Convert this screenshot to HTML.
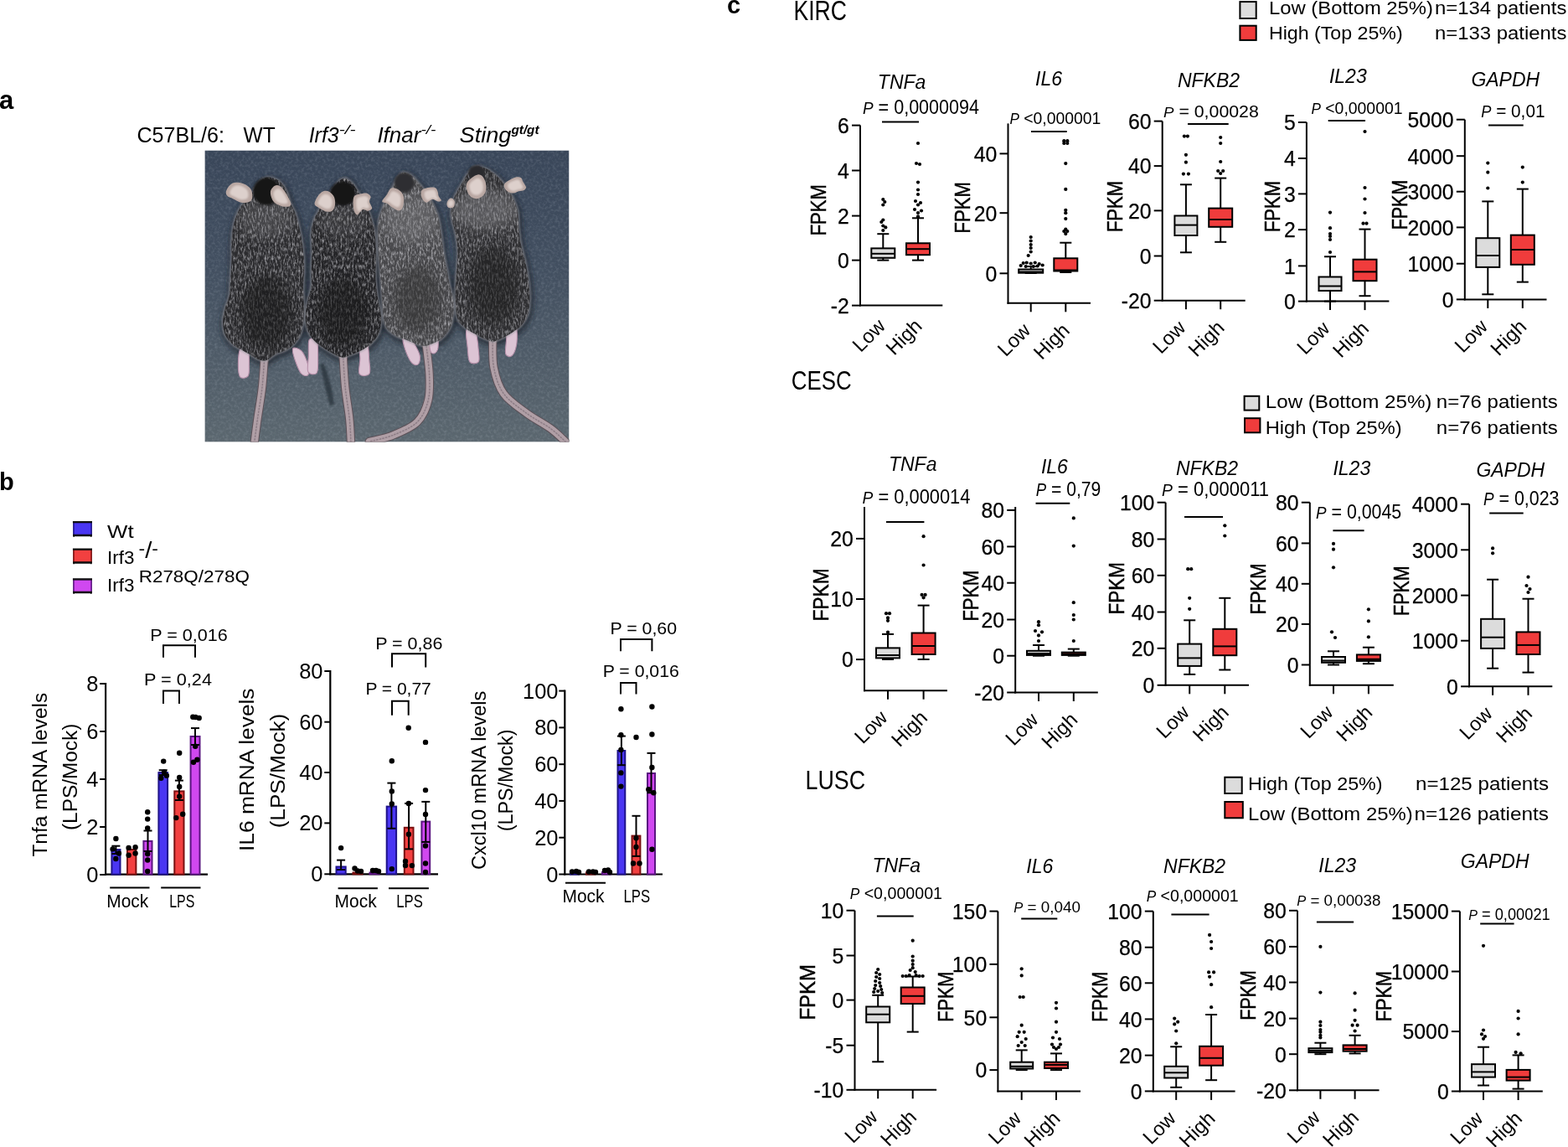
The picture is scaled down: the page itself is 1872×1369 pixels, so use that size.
<!DOCTYPE html>
<html><head><meta charset="utf-8"><title>Figure</title><style>html,body{margin:0;padding:0;background:#fff;overflow:hidden}svg{display:block}</style></head><body>
<svg width="1872" height="1369" viewBox="0 0 1872 1369" font-family="'Liberation Sans', Arial, sans-serif" fill="#000">
<rect width="1872" height="1369" fill="#fff"/>
<text x="-1.0" y="129.8" font-size="31" text-anchor="start" font-weight="bold" >a</text>
<text x="-1.0" y="585.0" font-size="29" text-anchor="start" font-weight="bold" >b</text>
<text x="868.0" y="16.0" font-size="29" text-anchor="start" font-weight="bold" >c</text>
<text x="163.5" y="170.1" font-size="25" text-anchor="start" textLength="104.5" lengthAdjust="spacingAndGlyphs" >C57BL/6:</text>
<text x="290.6" y="170.1" font-size="25" text-anchor="start" textLength="38.1" lengthAdjust="spacingAndGlyphs" >WT</text>
<text x="368.7" y="170.1" font-size="25" font-style="italic"><tspan textLength="36" lengthAdjust="spacingAndGlyphs">Irf3</tspan><tspan font-size="15" dy="-10" textLength="20" lengthAdjust="spacingAndGlyphs">-/-</tspan></text>
<text x="450.4" y="170.1" font-size="25" font-style="italic"><tspan textLength="52" lengthAdjust="spacingAndGlyphs">Ifnar</tspan><tspan font-size="15" dy="-10" textLength="18" lengthAdjust="spacingAndGlyphs">-/-</tspan></text>
<text x="548.5" y="170.1" font-size="25" font-style="italic"><tspan textLength="62" lengthAdjust="spacingAndGlyphs">Sting</tspan><tspan font-size="15" font-weight="bold" dy="-10" textLength="33" lengthAdjust="spacingAndGlyphs">gt/gt</tspan></text>
<defs>
<clipPath id="phc"><rect x="244.4" y="179.4" width="435.1" height="348.2"/></clipPath>
<linearGradient id="bgg" x1="0" y1="0" x2="0" y2="1"><stop offset="0" stop-color="#394659"/><stop offset="0.4" stop-color="#424f60"/><stop offset="1" stop-color="#5b676f"/></linearGradient>
<filter id="fur" x="0" y="0" width="100%" height="100%"><feTurbulence type="fractalNoise" baseFrequency="0.13 0.05" numOctaves="3" seed="3"/><feColorMatrix type="matrix" values="0 0 0 0 0.52  0 0 0 0 0.52  0 0 0 0 0.55  1.9 0 0 0 -0.8"/><feGaussianBlur stdDeviation="1.6"/></filter>
<filter id="bgn" x="0" y="0" width="100%" height="100%"><feTurbulence type="fractalNoise" baseFrequency="0.3" numOctaves="3" seed="7"/><feColorMatrix type="matrix" values="0 0 0 0 0.62  0 0 0 0 0.68  0 0 0 0 0.76  1.6 0 0 0 -0.65"/></filter>
<filter id="soft" x="-20%" y="-20%" width="140%" height="140%"><feGaussianBlur stdDeviation="14"/></filter>
<filter id="soft2" x="-20%" y="-20%" width="140%" height="140%"><feGaussianBlur stdDeviation="5"/></filter>
<filter id="soft3" x="-50%" y="-50%" width="200%" height="200%"><feGaussianBlur stdDeviation="25"/></filter>
<clipPath id="mc0"><path d="M310,140 C321,140 334,144 345,150 C356,156 367,164 375,175 C383,186 389,201 395,215 C401,229 404,246 410,260 C416,274 424,285 430,300 C436,315 440,330 445,350 C450,370 456,395 460,420 C464,445 468,477 470,500 C472,523 472,537 472,560 C472,583 468,617 468,640 C468,663 469,680 470,700 C471,720 473,740 472,760 C471,780 469,802 465,820 C461,838 458,855 450,870 C442,885 432,899 420,910 C408,921 393,928 380,935 C367,942 353,943 340,950 C327,957 312,974 300,978 C288,982 277,979 265,975 C253,971 243,962 230,955 C217,948 200,939 185,930 C170,921 152,912 140,900 C128,888 117,877 110,860 C103,843 100,820 100,800 C100,780 105,760 110,740 C115,720 126,703 130,680 C134,657 133,627 135,600 C137,573 139,547 140,520 C141,493 139,463 140,440 C141,417 142,400 145,380 C148,360 153,338 160,320 C167,302 175,285 185,270 C195,255 209,244 220,230 C231,216 240,198 250,185 C260,172 270,158 280,150 C290,142 299,140 310,140 Z"/></clipPath>
<clipPath id="mc1"><path d="M655,145 C666,145 680,156 690,165 C700,174 707,188 715,200 C723,212 732,227 740,240 C748,253 753,265 760,280 C767,295 774,312 780,330 C786,348 792,368 795,390 C798,412 799,435 800,460 C801,485 800,513 800,540 C800,567 798,593 800,620 C802,647 806,673 810,700 C814,727 824,755 825,780 C826,805 822,830 815,850 C808,870 794,886 780,900 C766,914 747,926 730,935 C713,944 693,950 680,955 C667,960 662,966 650,965 C638,964 625,958 610,950 C595,942 576,931 560,920 C544,909 528,900 515,885 C502,870 491,849 485,830 C479,811 477,792 478,770 C479,748 486,722 490,700 C494,678 502,663 505,640 C508,617 504,587 505,560 C506,533 508,507 508,480 C508,453 504,423 505,400 C506,377 509,358 515,340 C521,322 531,307 540,290 C549,273 560,255 570,240 C580,225 591,212 600,200 C609,188 616,174 625,165 C634,156 644,145 655,145 Z"/></clipPath>
<clipPath id="mc2"><path d="M925,118 C934,117 948,122 960,130 C972,138 983,152 995,165 C1007,178 1019,194 1030,210 C1041,226 1051,242 1060,260 C1069,278 1078,297 1085,320 C1092,343 1096,373 1100,400 C1104,427 1106,453 1110,480 C1114,507 1120,533 1125,560 C1130,587 1135,617 1140,640 C1145,663 1152,678 1155,700 C1158,722 1158,748 1155,770 C1152,792 1149,812 1140,830 C1131,848 1115,868 1100,880 C1085,892 1062,900 1050,905 C1038,910 1035,912 1025,912 C1015,912 1004,910 990,905 C976,900 957,892 940,885 C923,878 905,874 890,865 C875,856 859,844 850,830 C841,816 838,798 835,780 C832,762 832,742 830,720 C828,698 827,677 825,650 C823,623 820,590 818,560 C816,530 813,497 812,470 C811,443 810,423 810,400 C810,377 811,352 815,330 C819,308 828,288 835,270 C842,252 852,237 860,220 C868,203 878,184 885,170 C892,156 898,144 905,135 C912,126 916,119 925,118 Z"/></clipPath>
<clipPath id="mc3"><path d="M1255,92 C1267,87 1278,91 1290,95 C1302,99 1317,106 1330,115 C1343,124 1358,138 1370,150 C1382,162 1390,175 1400,190 C1410,205 1422,222 1430,240 C1438,258 1446,277 1450,300 C1454,323 1452,355 1455,380 C1458,405 1460,425 1465,450 C1470,475 1479,502 1485,530 C1491,558 1497,592 1500,620 C1503,648 1506,675 1505,700 C1504,725 1502,750 1495,770 C1488,790 1479,805 1465,820 C1451,835 1428,849 1410,860 C1392,871 1372,880 1360,885 C1348,890 1345,893 1335,892 C1325,891 1314,886 1300,880 C1286,874 1265,863 1250,855 C1235,847 1222,841 1210,830 C1198,819 1182,808 1175,790 C1168,772 1167,745 1165,720 C1163,695 1164,667 1165,640 C1166,613 1168,587 1170,560 C1172,533 1176,507 1175,480 C1174,453 1169,423 1165,400 C1161,377 1153,358 1150,340 C1147,322 1143,308 1145,290 C1147,272 1152,249 1160,230 C1168,211 1180,192 1190,175 C1200,158 1209,139 1220,125 C1231,111 1243,97 1255,92 Z"/></clipPath>
</defs>
<g clip-path="url(#phc)">
<rect x="244.4" y="179.4" width="435.1" height="348.2" fill="url(#bgg)"/>
<rect x="244.4" y="179.4" width="435.1" height="348.2" filter="url(#bgn)" opacity="0.22"/>
<g transform="translate(240,175) scale(0.26082)">
<path d="M560,990 C590,1050 600,1120 610,1180 L590,1185 C570,1120 560,1060 545,1000 Z" fill="#1f262e" opacity="0.6" filter="url(#soft2)"/>
<g filter="url(#soft)" opacity="0.85">
<path d="M310,140 C321,140 334,144 345,150 C356,156 367,164 375,175 C383,186 389,201 395,215 C401,229 404,246 410,260 C416,274 424,285 430,300 C436,315 440,330 445,350 C450,370 456,395 460,420 C464,445 468,477 470,500 C472,523 472,537 472,560 C472,583 468,617 468,640 C468,663 469,680 470,700 C471,720 473,740 472,760 C471,780 469,802 465,820 C461,838 458,855 450,870 C442,885 432,899 420,910 C408,921 393,928 380,935 C367,942 353,943 340,950 C327,957 312,974 300,978 C288,982 277,979 265,975 C253,971 243,962 230,955 C217,948 200,939 185,930 C170,921 152,912 140,900 C128,888 117,877 110,860 C103,843 100,820 100,800 C100,780 105,760 110,740 C115,720 126,703 130,680 C134,657 133,627 135,600 C137,573 139,547 140,520 C141,493 139,463 140,440 C141,417 142,400 145,380 C148,360 153,338 160,320 C167,302 175,285 185,270 C195,255 209,244 220,230 C231,216 240,198 250,185 C260,172 270,158 280,150 C290,142 299,140 310,140 Z" fill="#1a212b" stroke="#1a212b" stroke-width="22" transform="translate(4,10)"/>
<path d="M655,145 C666,145 680,156 690,165 C700,174 707,188 715,200 C723,212 732,227 740,240 C748,253 753,265 760,280 C767,295 774,312 780,330 C786,348 792,368 795,390 C798,412 799,435 800,460 C801,485 800,513 800,540 C800,567 798,593 800,620 C802,647 806,673 810,700 C814,727 824,755 825,780 C826,805 822,830 815,850 C808,870 794,886 780,900 C766,914 747,926 730,935 C713,944 693,950 680,955 C667,960 662,966 650,965 C638,964 625,958 610,950 C595,942 576,931 560,920 C544,909 528,900 515,885 C502,870 491,849 485,830 C479,811 477,792 478,770 C479,748 486,722 490,700 C494,678 502,663 505,640 C508,617 504,587 505,560 C506,533 508,507 508,480 C508,453 504,423 505,400 C506,377 509,358 515,340 C521,322 531,307 540,290 C549,273 560,255 570,240 C580,225 591,212 600,200 C609,188 616,174 625,165 C634,156 644,145 655,145 Z" fill="#1a212b" stroke="#1a212b" stroke-width="22" transform="translate(4,10)"/>
<path d="M925,118 C934,117 948,122 960,130 C972,138 983,152 995,165 C1007,178 1019,194 1030,210 C1041,226 1051,242 1060,260 C1069,278 1078,297 1085,320 C1092,343 1096,373 1100,400 C1104,427 1106,453 1110,480 C1114,507 1120,533 1125,560 C1130,587 1135,617 1140,640 C1145,663 1152,678 1155,700 C1158,722 1158,748 1155,770 C1152,792 1149,812 1140,830 C1131,848 1115,868 1100,880 C1085,892 1062,900 1050,905 C1038,910 1035,912 1025,912 C1015,912 1004,910 990,905 C976,900 957,892 940,885 C923,878 905,874 890,865 C875,856 859,844 850,830 C841,816 838,798 835,780 C832,762 832,742 830,720 C828,698 827,677 825,650 C823,623 820,590 818,560 C816,530 813,497 812,470 C811,443 810,423 810,400 C810,377 811,352 815,330 C819,308 828,288 835,270 C842,252 852,237 860,220 C868,203 878,184 885,170 C892,156 898,144 905,135 C912,126 916,119 925,118 Z" fill="#1a212b" stroke="#1a212b" stroke-width="22" transform="translate(4,10)"/>
<path d="M1255,92 C1267,87 1278,91 1290,95 C1302,99 1317,106 1330,115 C1343,124 1358,138 1370,150 C1382,162 1390,175 1400,190 C1410,205 1422,222 1430,240 C1438,258 1446,277 1450,300 C1454,323 1452,355 1455,380 C1458,405 1460,425 1465,450 C1470,475 1479,502 1485,530 C1491,558 1497,592 1500,620 C1503,648 1506,675 1505,700 C1504,725 1502,750 1495,770 C1488,790 1479,805 1465,820 C1451,835 1428,849 1410,860 C1392,871 1372,880 1360,885 C1348,890 1345,893 1335,892 C1325,891 1314,886 1300,880 C1286,874 1265,863 1250,855 C1235,847 1222,841 1210,830 C1198,819 1182,808 1175,790 C1168,772 1167,745 1165,720 C1163,695 1164,667 1165,640 C1166,613 1168,587 1170,560 C1172,533 1176,507 1175,480 C1174,453 1169,423 1165,400 C1161,377 1153,358 1150,340 C1147,322 1143,308 1145,290 C1147,272 1152,249 1160,230 C1168,211 1180,192 1190,175 C1200,158 1209,139 1220,125 C1231,111 1243,97 1255,92 Z" fill="#1a212b" stroke="#1a212b" stroke-width="22" transform="translate(4,10)"/>
</g>
<path d="M290,975 C288,996 285,1054 280,1100 C275,1146 264,1208 258,1250 C252,1292 247,1333 245,1350 " fill="none" stroke="#5c5158" stroke-width="40" stroke-linecap="round"/>
<path d="M290,975 C288,996 285,1054 280,1100 C275,1146 264,1208 258,1250 C252,1292 247,1333 245,1350 " fill="none" stroke="#b09fa6" stroke-width="32" stroke-linecap="round"/>
<path d="M290,975 C288,996 285,1054 280,1100 C275,1146 264,1208 258,1250 C252,1292 247,1333 245,1350 " fill="none" stroke="#8d7d86" stroke-width="6" stroke-dasharray="5 9" stroke-linecap="round"/>
<path d="M650,955 C652,979 655,1051 660,1100 C665,1149 676,1208 680,1250 C684,1292 685,1333 686,1350 " fill="none" stroke="#5c5158" stroke-width="40" stroke-linecap="round"/>
<path d="M650,955 C652,979 655,1051 660,1100 C665,1149 676,1208 680,1250 C684,1292 685,1333 686,1350 " fill="none" stroke="#b09fa6" stroke-width="32" stroke-linecap="round"/>
<path d="M650,955 C652,979 655,1051 660,1100 C665,1149 676,1208 680,1250 C684,1292 685,1333 686,1350 " fill="none" stroke="#8d7d86" stroke-width="6" stroke-dasharray="5 9" stroke-linecap="round"/>
<path d="M1030,900 C1032,923 1043,997 1045,1040 C1047,1083 1049,1123 1040,1160 C1031,1197 1017,1233 990,1260 C963,1287 917,1305 880,1320 C843,1335 788,1345 770,1350 " fill="none" stroke="#5c5158" stroke-width="40" stroke-linecap="round"/>
<path d="M1030,900 C1032,923 1043,997 1045,1040 C1047,1083 1049,1123 1040,1160 C1031,1197 1017,1233 990,1260 C963,1287 917,1305 880,1320 C843,1335 788,1345 770,1350 " fill="none" stroke="#b09fa6" stroke-width="32" stroke-linecap="round"/>
<path d="M1030,900 C1032,923 1043,997 1045,1040 C1047,1083 1049,1123 1040,1160 C1031,1197 1017,1233 990,1260 C963,1287 917,1305 880,1320 C843,1335 788,1345 770,1350 " fill="none" stroke="#8d7d86" stroke-width="6" stroke-dasharray="5 9" stroke-linecap="round"/>
<path d="M1335,880 C1336,902 1332,968 1340,1010 C1348,1052 1360,1095 1385,1130 C1410,1165 1454,1193 1490,1220 C1526,1247 1570,1268 1600,1290 C1630,1312 1657,1340 1668,1350 " fill="none" stroke="#5c5158" stroke-width="40" stroke-linecap="round"/>
<path d="M1335,880 C1336,902 1332,968 1340,1010 C1348,1052 1360,1095 1385,1130 C1410,1165 1454,1193 1490,1220 C1526,1247 1570,1268 1600,1290 C1630,1312 1657,1340 1668,1350 " fill="none" stroke="#b09fa6" stroke-width="32" stroke-linecap="round"/>
<path d="M1335,880 C1336,902 1332,968 1340,1010 C1348,1052 1360,1095 1385,1130 C1410,1165 1454,1193 1490,1220 C1526,1247 1570,1268 1600,1290 C1630,1312 1657,1340 1668,1350 " fill="none" stroke="#8d7d86" stroke-width="6" stroke-dasharray="5 9" stroke-linecap="round"/>
<path d="M180,925 C188,912 208,912 215,925 C222,938 220,979 220,1000 C220,1021 222,1041 215,1050 C208,1059 188,1063 180,1055 C172,1047 170,1022 170,1000 C170,978 172,938 180,925 Z" fill="#dcc4d4"/>
<path d="M180,925 C188,912 208,912 215,925 C222,938 220,979 220,1000 C220,1021 222,1041 215,1050 C208,1059 188,1063 180,1055 C172,1047 170,1022 170,1000 C170,978 172,938 180,925 Z" fill="none" stroke="#b58fa8" stroke-width="4"/>
<path d="M420,925 C424,916 448,922 460,935 C472,948 485,982 490,1000 C495,1018 495,1038 490,1045 C485,1052 469,1049 460,1040 C451,1031 442,1009 435,990 C428,971 416,934 420,925 Z" fill="#dcc4d4"/>
<path d="M420,925 C424,916 448,922 460,935 C472,948 485,982 490,1000 C495,1018 495,1038 490,1045 C485,1052 469,1049 460,1040 C451,1031 442,1009 435,990 C428,971 416,934 420,925 Z" fill="none" stroke="#b58fa8" stroke-width="4"/>
<path d="M495,885 C501,873 523,878 530,890 C537,902 535,936 535,960 C535,984 538,1023 530,1035 C522,1047 496,1042 490,1030 C484,1018 491,984 492,960 C493,936 489,897 495,885 Z" fill="#dcc4d4"/>
<path d="M495,885 C501,873 523,878 530,890 C537,902 535,936 535,960 C535,984 538,1023 530,1035 C522,1047 496,1042 490,1030 C484,1018 491,984 492,960 C493,936 489,897 495,885 Z" fill="none" stroke="#b58fa8" stroke-width="4"/>
<path d="M725,895 C730,882 752,881 760,895 C768,909 768,956 770,980 C772,1004 778,1030 770,1040 C762,1050 732,1052 725,1040 C718,1028 728,994 728,970 C728,946 720,908 725,895 Z" fill="#dcc4d4"/>
<path d="M725,895 C730,882 752,881 760,895 C768,909 768,956 770,980 C772,1004 778,1030 770,1040 C762,1050 732,1052 725,1040 C718,1028 728,994 728,970 C728,946 720,908 725,895 Z" fill="none" stroke="#b58fa8" stroke-width="4"/>
<path d="M925,870 C929,862 948,867 960,880 C972,893 994,931 1000,950 C1006,969 1001,988 995,995 C989,1002 975,1001 965,990 C955,979 942,950 935,930 C928,910 921,878 925,870 Z" fill="#dcc4d4"/>
<path d="M925,870 C929,862 948,867 960,880 C972,893 994,931 1000,950 C1006,969 1001,988 995,995 C989,1002 975,1001 965,990 C955,979 942,950 935,930 C928,910 921,878 925,870 Z" fill="none" stroke="#b58fa8" stroke-width="4"/>
<path d="M1045,860 C1050,848 1073,850 1080,860 C1087,870 1087,906 1085,920 C1083,934 1076,942 1070,945 C1064,948 1054,949 1050,935 C1046,921 1040,872 1045,860 Z" fill="#dcc4d4"/>
<path d="M1045,860 C1050,848 1073,850 1080,860 C1087,870 1087,906 1085,920 C1083,934 1076,942 1070,945 C1064,948 1054,949 1050,935 C1046,921 1040,872 1045,860 Z" fill="none" stroke="#b58fa8" stroke-width="4"/>
<path d="M1215,840 C1221,828 1246,830 1255,845 C1264,860 1268,907 1270,930 C1272,953 1277,976 1270,985 C1263,994 1238,996 1230,985 C1222,974 1222,944 1220,920 C1218,896 1209,852 1215,840 Z" fill="#dcc4d4"/>
<path d="M1215,840 C1221,828 1246,830 1255,845 C1264,860 1268,907 1270,930 C1272,953 1277,976 1270,985 C1263,994 1238,996 1230,985 C1222,974 1222,944 1220,920 C1218,896 1209,852 1215,840 Z" fill="none" stroke="#b58fa8" stroke-width="4"/>
<path d="M1400,820 C1407,810 1432,807 1440,820 C1448,833 1448,878 1445,900 C1442,922 1433,947 1425,955 C1417,963 1400,962 1395,950 C1390,938 1397,902 1398,880 C1399,858 1393,830 1400,820 Z" fill="#dcc4d4"/>
<path d="M1400,820 C1407,810 1432,807 1440,820 C1448,833 1448,878 1445,900 C1442,922 1433,947 1425,955 C1417,963 1400,962 1395,950 C1390,938 1397,902 1398,880 C1399,858 1393,830 1400,820 Z" fill="none" stroke="#b58fa8" stroke-width="4"/>
<path d="M310,140 C321,140 334,144 345,150 C356,156 367,164 375,175 C383,186 389,201 395,215 C401,229 404,246 410,260 C416,274 424,285 430,300 C436,315 440,330 445,350 C450,370 456,395 460,420 C464,445 468,477 470,500 C472,523 472,537 472,560 C472,583 468,617 468,640 C468,663 469,680 470,700 C471,720 473,740 472,760 C471,780 469,802 465,820 C461,838 458,855 450,870 C442,885 432,899 420,910 C408,921 393,928 380,935 C367,942 353,943 340,950 C327,957 312,974 300,978 C288,982 277,979 265,975 C253,971 243,962 230,955 C217,948 200,939 185,930 C170,921 152,912 140,900 C128,888 117,877 110,860 C103,843 100,820 100,800 C100,780 105,760 110,740 C115,720 126,703 130,680 C134,657 133,627 135,600 C137,573 139,547 140,520 C141,493 139,463 140,440 C141,417 142,400 145,380 C148,360 153,338 160,320 C167,302 175,285 185,270 C195,255 209,244 220,230 C231,216 240,198 250,185 C260,172 270,158 280,150 C290,142 299,140 310,140 Z" fill="none" stroke="#9a9aa0" stroke-width="10" filter="url(#soft2)" opacity="0.7"/>
<path d="M310,140 C321,140 334,144 345,150 C356,156 367,164 375,175 C383,186 389,201 395,215 C401,229 404,246 410,260 C416,274 424,285 430,300 C436,315 440,330 445,350 C450,370 456,395 460,420 C464,445 468,477 470,500 C472,523 472,537 472,560 C472,583 468,617 468,640 C468,663 469,680 470,700 C471,720 473,740 472,760 C471,780 469,802 465,820 C461,838 458,855 450,870 C442,885 432,899 420,910 C408,921 393,928 380,935 C367,942 353,943 340,950 C327,957 312,974 300,978 C288,982 277,979 265,975 C253,971 243,962 230,955 C217,948 200,939 185,930 C170,921 152,912 140,900 C128,888 117,877 110,860 C103,843 100,820 100,800 C100,780 105,760 110,740 C115,720 126,703 130,680 C134,657 133,627 135,600 C137,573 139,547 140,520 C141,493 139,463 140,440 C141,417 142,400 145,380 C148,360 153,338 160,320 C167,302 175,285 185,270 C195,255 209,244 220,230 C231,216 240,198 250,185 C260,172 270,158 280,150 C290,142 299,140 310,140 Z" fill="#2c2c2f"/>
<g clip-path="url(#mc0)">
<rect x="0" y="0" width="1700" height="1360" filter="url(#fur)" opacity="0.9"/>
</g>
<path d="M655,145 C666,145 680,156 690,165 C700,174 707,188 715,200 C723,212 732,227 740,240 C748,253 753,265 760,280 C767,295 774,312 780,330 C786,348 792,368 795,390 C798,412 799,435 800,460 C801,485 800,513 800,540 C800,567 798,593 800,620 C802,647 806,673 810,700 C814,727 824,755 825,780 C826,805 822,830 815,850 C808,870 794,886 780,900 C766,914 747,926 730,935 C713,944 693,950 680,955 C667,960 662,966 650,965 C638,964 625,958 610,950 C595,942 576,931 560,920 C544,909 528,900 515,885 C502,870 491,849 485,830 C479,811 477,792 478,770 C479,748 486,722 490,700 C494,678 502,663 505,640 C508,617 504,587 505,560 C506,533 508,507 508,480 C508,453 504,423 505,400 C506,377 509,358 515,340 C521,322 531,307 540,290 C549,273 560,255 570,240 C580,225 591,212 600,200 C609,188 616,174 625,165 C634,156 644,145 655,145 Z" fill="none" stroke="#9a9aa0" stroke-width="10" filter="url(#soft2)" opacity="0.7"/>
<path d="M655,145 C666,145 680,156 690,165 C700,174 707,188 715,200 C723,212 732,227 740,240 C748,253 753,265 760,280 C767,295 774,312 780,330 C786,348 792,368 795,390 C798,412 799,435 800,460 C801,485 800,513 800,540 C800,567 798,593 800,620 C802,647 806,673 810,700 C814,727 824,755 825,780 C826,805 822,830 815,850 C808,870 794,886 780,900 C766,914 747,926 730,935 C713,944 693,950 680,955 C667,960 662,966 650,965 C638,964 625,958 610,950 C595,942 576,931 560,920 C544,909 528,900 515,885 C502,870 491,849 485,830 C479,811 477,792 478,770 C479,748 486,722 490,700 C494,678 502,663 505,640 C508,617 504,587 505,560 C506,533 508,507 508,480 C508,453 504,423 505,400 C506,377 509,358 515,340 C521,322 531,307 540,290 C549,273 560,255 570,240 C580,225 591,212 600,200 C609,188 616,174 625,165 C634,156 644,145 655,145 Z" fill="#252528"/>
<g clip-path="url(#mc1)">
<rect x="0" y="0" width="1700" height="1360" filter="url(#fur)" opacity="0.9"/>
</g>
<path d="M925,118 C934,117 948,122 960,130 C972,138 983,152 995,165 C1007,178 1019,194 1030,210 C1041,226 1051,242 1060,260 C1069,278 1078,297 1085,320 C1092,343 1096,373 1100,400 C1104,427 1106,453 1110,480 C1114,507 1120,533 1125,560 C1130,587 1135,617 1140,640 C1145,663 1152,678 1155,700 C1158,722 1158,748 1155,770 C1152,792 1149,812 1140,830 C1131,848 1115,868 1100,880 C1085,892 1062,900 1050,905 C1038,910 1035,912 1025,912 C1015,912 1004,910 990,905 C976,900 957,892 940,885 C923,878 905,874 890,865 C875,856 859,844 850,830 C841,816 838,798 835,780 C832,762 832,742 830,720 C828,698 827,677 825,650 C823,623 820,590 818,560 C816,530 813,497 812,470 C811,443 810,423 810,400 C810,377 811,352 815,330 C819,308 828,288 835,270 C842,252 852,237 860,220 C868,203 878,184 885,170 C892,156 898,144 905,135 C912,126 916,119 925,118 Z" fill="none" stroke="#9a9aa0" stroke-width="10" filter="url(#soft2)" opacity="0.7"/>
<path d="M925,118 C934,117 948,122 960,130 C972,138 983,152 995,165 C1007,178 1019,194 1030,210 C1041,226 1051,242 1060,260 C1069,278 1078,297 1085,320 C1092,343 1096,373 1100,400 C1104,427 1106,453 1110,480 C1114,507 1120,533 1125,560 C1130,587 1135,617 1140,640 C1145,663 1152,678 1155,700 C1158,722 1158,748 1155,770 C1152,792 1149,812 1140,830 C1131,848 1115,868 1100,880 C1085,892 1062,900 1050,905 C1038,910 1035,912 1025,912 C1015,912 1004,910 990,905 C976,900 957,892 940,885 C923,878 905,874 890,865 C875,856 859,844 850,830 C841,816 838,798 835,780 C832,762 832,742 830,720 C828,698 827,677 825,650 C823,623 820,590 818,560 C816,530 813,497 812,470 C811,443 810,423 810,400 C810,377 811,352 815,330 C819,308 828,288 835,270 C842,252 852,237 860,220 C868,203 878,184 885,170 C892,156 898,144 905,135 C912,126 916,119 925,118 Z" fill="#48484b"/>
<g clip-path="url(#mc2)">
<rect x="0" y="0" width="1700" height="1360" filter="url(#fur)" opacity="1"/>
</g>
<path d="M1255,92 C1267,87 1278,91 1290,95 C1302,99 1317,106 1330,115 C1343,124 1358,138 1370,150 C1382,162 1390,175 1400,190 C1410,205 1422,222 1430,240 C1438,258 1446,277 1450,300 C1454,323 1452,355 1455,380 C1458,405 1460,425 1465,450 C1470,475 1479,502 1485,530 C1491,558 1497,592 1500,620 C1503,648 1506,675 1505,700 C1504,725 1502,750 1495,770 C1488,790 1479,805 1465,820 C1451,835 1428,849 1410,860 C1392,871 1372,880 1360,885 C1348,890 1345,893 1335,892 C1325,891 1314,886 1300,880 C1286,874 1265,863 1250,855 C1235,847 1222,841 1210,830 C1198,819 1182,808 1175,790 C1168,772 1167,745 1165,720 C1163,695 1164,667 1165,640 C1166,613 1168,587 1170,560 C1172,533 1176,507 1175,480 C1174,453 1169,423 1165,400 C1161,377 1153,358 1150,340 C1147,322 1143,308 1145,290 C1147,272 1152,249 1160,230 C1168,211 1180,192 1190,175 C1200,158 1209,139 1220,125 C1231,111 1243,97 1255,92 Z" fill="none" stroke="#9a9aa0" stroke-width="10" filter="url(#soft2)" opacity="0.7"/>
<path d="M1255,92 C1267,87 1278,91 1290,95 C1302,99 1317,106 1330,115 C1343,124 1358,138 1370,150 C1382,162 1390,175 1400,190 C1410,205 1422,222 1430,240 C1438,258 1446,277 1450,300 C1454,323 1452,355 1455,380 C1458,405 1460,425 1465,450 C1470,475 1479,502 1485,530 C1491,558 1497,592 1500,620 C1503,648 1506,675 1505,700 C1504,725 1502,750 1495,770 C1488,790 1479,805 1465,820 C1451,835 1428,849 1410,860 C1392,871 1372,880 1360,885 C1348,890 1345,893 1335,892 C1325,891 1314,886 1300,880 C1286,874 1265,863 1250,855 C1235,847 1222,841 1210,830 C1198,819 1182,808 1175,790 C1168,772 1167,745 1165,720 C1163,695 1164,667 1165,640 C1166,613 1168,587 1170,560 C1172,533 1176,507 1175,480 C1174,453 1169,423 1165,400 C1161,377 1153,358 1150,340 C1147,322 1143,308 1145,290 C1147,272 1152,249 1160,230 C1168,211 1180,192 1190,175 C1200,158 1209,139 1220,125 C1231,111 1243,97 1255,92 Z" fill="#313134"/>
<g clip-path="url(#mc3)">
<rect x="0" y="0" width="1700" height="1360" filter="url(#fur)" opacity="0.9"/>
</g>
<g clip-path="url(#mc0)"><ellipse cx="300" cy="760" rx="120" ry="170" fill="#161618" opacity="0.55" filter="url(#soft3)"/></g>
<g clip-path="url(#mc1)"><ellipse cx="650" cy="760" rx="120" ry="160" fill="#131315" opacity="0.55" filter="url(#soft3)"/></g>
<g clip-path="url(#mc2)"><ellipse cx="990" cy="700" rx="110" ry="150" fill="#303032" opacity="0.55" filter="url(#soft3)"/></g>
<g clip-path="url(#mc3)"><ellipse cx="1340" cy="640" rx="120" ry="180" fill="#1b1b1d" opacity="0.55" filter="url(#soft3)"/></g>
<g clip-path="url(#mc0)"><ellipse cx="300" cy="330" rx="130" ry="90" fill="#8a8a8e" opacity="0.25" filter="url(#soft3)"/></g>
<g clip-path="url(#mc1)"><ellipse cx="650" cy="340" rx="120" ry="80" fill="#8a8a8e" opacity="0.2" filter="url(#soft3)"/></g>
<g clip-path="url(#mc2)"><ellipse cx="960" cy="330" rx="130" ry="110" fill="#8a8a8e" opacity="0.35" filter="url(#soft3)"/></g>
<g clip-path="url(#mc3)"><ellipse cx="1300" cy="290" rx="160" ry="90" fill="#8a8a8e" opacity="0.45" filter="url(#soft3)"/></g>
<ellipse cx="300" cy="205" rx="62" ry="62" fill="#141416" filter="url(#soft2)"/>
<ellipse cx="648" cy="215" rx="58" ry="55" fill="#121214" filter="url(#soft2)"/>
<ellipse cx="930" cy="165" rx="45" ry="45" fill="#2e2e30" filter="url(#soft2)"/>
<ellipse cx="1262" cy="120" rx="38" ry="35" fill="#2c2c2e" filter="url(#soft2)"/>
<path d="M114,210 C114,203 119,193 124,186 C129,179 137,171 145,167 C153,163 161,163 170,164 C179,165 192,168 201,173 C210,178 220,184 226,192 C232,200 234,211 235,220 C236,229 235,241 229,247 C223,253 211,256 201,257 C191,258 180,255 170,251 C160,247 147,239 139,235 C131,231 125,230 121,226 C117,222 114,217 114,210 Z" fill="#b9a7a2"/>
<path d="M114,210 C114,203 119,193 124,186 C129,179 137,171 145,167 C153,163 161,163 170,164 C179,165 192,168 201,173 C210,178 220,184 226,192 C232,200 234,211 235,220 C236,229 235,241 229,247 C223,253 211,256 201,257 C191,258 180,255 170,251 C160,247 147,239 139,235 C131,231 125,230 121,226 C117,222 114,217 114,210 Z" fill="#ddd0cc" transform="translate(52,63) scale(0.7)" filter="url(#soft2)"/>
<path d="M319,201 C322,192 330,183 337,179 C344,175 352,175 359,179 C366,183 374,192 381,201 C388,210 394,222 399,232 C404,242 412,256 412,263 C412,270 406,274 399,275 C392,276 378,275 368,272 C358,269 345,264 337,257 C329,250 325,241 322,232 C319,223 316,210 319,201 Z" fill="#b9a7a2"/>
<path d="M319,201 C322,192 330,183 337,179 C344,175 352,175 359,179 C366,183 374,192 381,201 C388,210 394,222 399,232 C404,242 412,256 412,263 C412,270 406,274 399,275 C392,276 378,275 368,272 C358,269 345,264 337,257 C329,250 325,241 322,232 C319,223 316,210 319,201 Z" fill="#ddd0cc" transform="translate(109,69) scale(0.7)" filter="url(#soft2)"/>
<path d="M520,263 C519,254 528,236 535,226 C542,216 551,207 560,204 C569,201 580,202 588,207 C596,212 606,222 610,232 C614,242 615,259 613,269 C611,279 607,289 600,294 C593,299 583,299 573,297 C563,295 551,288 542,282 C533,276 521,272 520,263 Z" fill="#b9a7a2"/>
<path d="M520,263 C519,254 528,236 535,226 C542,216 551,207 560,204 C569,201 580,202 588,207 C596,212 606,222 610,232 C614,242 615,259 613,269 C611,279 607,289 600,294 C593,299 583,299 573,297 C563,295 551,288 542,282 C533,276 521,272 520,263 Z" fill="#ddd0cc" transform="translate(171,76) scale(0.7)" filter="url(#soft2)"/>
<path d="M699,232 C704,220 717,220 727,217 C737,214 750,211 758,213 C766,215 775,223 777,229 C779,235 770,242 771,251 C772,260 784,275 783,282 C782,289 771,293 764,294 C757,295 748,285 740,288 C732,291 722,312 715,312 C708,312 702,301 699,288 C696,275 694,244 699,232 Z" fill="#b9a7a2"/>
<path d="M699,232 C704,220 717,220 727,217 C737,214 750,211 758,213 C766,215 775,223 777,229 C779,235 770,242 771,251 C772,260 784,275 783,282 C782,289 771,293 764,294 C757,295 748,285 740,288 C732,291 722,312 715,312 C708,312 702,301 699,288 C696,275 694,244 699,232 Z" fill="#ddd0cc" transform="translate(223,78) scale(0.7)" filter="url(#soft2)"/>
<path d="M829,251 C829,244 846,228 852,218 C858,208 860,199 866,194 C872,189 877,188 885,190 C893,192 906,197 913,204 C920,211 926,220 928,232 C930,244 927,269 923,279 C919,289 912,293 904,293 C896,293 885,284 876,279 C867,274 860,265 852,260 C844,255 829,258 829,251 Z" fill="#b9a7a2"/>
<path d="M829,251 C829,244 846,228 852,218 C858,208 860,199 866,194 C872,189 877,188 885,190 C893,192 906,197 913,204 C920,211 926,220 928,232 C930,244 927,269 923,279 C919,289 912,293 904,293 C896,293 885,284 876,279 C867,274 860,265 852,260 C844,255 829,258 829,251 Z" fill="#ddd0cc" transform="translate(265,72) scale(0.7)" filter="url(#soft2)"/>
<path d="M1008,204 C1011,196 1021,193 1031,190 C1041,187 1060,185 1069,187 C1078,189 1080,197 1083,204 C1086,211 1085,220 1088,227 C1091,234 1101,242 1100,246 C1099,250 1090,252 1083,251 C1076,250 1069,240 1060,241 C1051,242 1039,257 1031,256 C1023,255 1016,246 1012,237 C1008,228 1005,212 1008,204 Z" fill="#b9a7a2"/>
<path d="M1008,204 C1011,196 1021,193 1031,190 C1041,187 1060,185 1069,187 C1078,189 1080,197 1083,204 C1086,211 1085,220 1088,227 C1091,234 1101,242 1100,246 C1099,250 1090,252 1083,251 C1076,250 1069,240 1060,241 C1051,242 1039,257 1031,256 C1023,255 1016,246 1012,237 C1008,228 1005,212 1008,204 Z" fill="#ddd0cc" transform="translate(317,67) scale(0.7)" filter="url(#soft2)"/>
<path d="M1215,171 C1218,160 1230,150 1239,143 C1248,136 1258,129 1267,128 C1276,127 1284,131 1290,138 C1296,145 1302,158 1304,171 C1306,184 1306,202 1300,213 C1294,224 1281,234 1271,237 C1261,240 1248,237 1239,232 C1230,227 1224,218 1220,208 C1216,198 1212,182 1215,171 Z" fill="#b9a7a2"/>
<path d="M1215,171 C1218,160 1230,150 1239,143 C1248,136 1258,129 1267,128 C1276,127 1284,131 1290,138 C1296,145 1302,158 1304,171 C1306,184 1306,202 1300,213 C1294,224 1281,234 1271,237 C1261,240 1248,237 1239,232 C1230,227 1224,218 1220,208 C1216,198 1212,182 1215,171 Z" fill="#ddd0cc" transform="translate(378,55) scale(0.7)" filter="url(#soft2)"/>
<path d="M1389,171 C1392,164 1404,157 1413,152 C1422,147 1432,142 1441,140 C1450,138 1460,140 1465,143 C1470,146 1470,154 1474,161 C1478,168 1487,179 1488,185 C1489,191 1484,196 1479,199 C1474,202 1463,202 1455,204 C1447,206 1440,212 1432,213 C1424,214 1415,211 1408,208 C1401,205 1395,200 1392,194 C1389,188 1386,178 1389,171 Z" fill="#b9a7a2"/>
<path d="M1389,171 C1392,164 1404,157 1413,152 C1422,147 1432,142 1441,140 C1450,138 1460,140 1465,143 C1470,146 1470,154 1474,161 C1478,168 1487,179 1488,185 C1489,191 1484,196 1479,199 C1474,202 1463,202 1455,204 C1447,206 1440,212 1432,213 C1424,214 1415,211 1408,208 C1401,205 1395,200 1392,194 C1389,188 1386,178 1389,171 Z" fill="#ddd0cc" transform="translate(432,54) scale(0.7)" filter="url(#soft2)"/>
<path d="M1125,260 C1126,254 1131,245 1135,241 C1139,237 1145,235 1149,237 C1153,239 1160,245 1161,251 C1162,257 1161,269 1158,274 C1155,279 1149,280 1144,281 C1139,282 1133,280 1130,277 C1127,274 1124,266 1125,260 Z" fill="#b9a7a2"/>
<path d="M1125,260 C1126,254 1131,245 1135,241 C1139,237 1145,235 1149,237 C1153,239 1160,245 1161,251 C1162,257 1161,269 1158,274 C1155,279 1149,280 1144,281 C1139,282 1133,280 1130,277 C1127,274 1124,266 1125,260 Z" fill="#ddd0cc" transform="translate(343,78) scale(0.7)" filter="url(#soft2)"/>
</g></g>
<rect x="87.9" y="623.3" width="21.2" height="15.4" fill="#4a36f2" stroke="#1e128a" stroke-width="1.6"/>
<path d="M86.9,623.1 H110 M87.1,639.0 H109.8" stroke="#111" stroke-width="2.4"/>
<path d="M88.2,638.7 V640.7 M108.7,638.7 V640.7" stroke="#111" stroke-width="1.6"/>
<rect x="87.9" y="655.8" width="21.2" height="15.4" fill="#f24040" stroke="#7a1010" stroke-width="1.6"/>
<path d="M86.9,655.6 H110 M87.1,671.5 H109.8" stroke="#111" stroke-width="2.4"/>
<path d="M88.2,671.2 V673.2 M108.7,671.2 V673.2" stroke="#111" stroke-width="1.6"/>
<rect x="87.9" y="691.6" width="21.2" height="15.1" fill="#d048f0" stroke="#5a1580" stroke-width="1.6"/>
<path d="M86.9,691.4 H110 M87.1,707.0 H109.8" stroke="#111" stroke-width="2.4"/>
<path d="M88.2,706.7 V708.7 M108.7,706.7 V708.7" stroke="#111" stroke-width="1.6"/>
<text x="128.0" y="642.4" font-size="22" text-anchor="start" textLength="31.6" lengthAdjust="spacingAndGlyphs" >Wt</text>
<text x="128.0" y="673.1" font-size="22" text-anchor="start" textLength="32.4" lengthAdjust="spacingAndGlyphs" >Irf3</text>
<text x="165.5" y="662" font-size="21" textLength="23.5" lengthAdjust="spacingAndGlyphs"><tspan>-</tspan><tspan font-size="27" dy="4">/</tspan><tspan dy="-4">-</tspan></text>
<text x="128.0" y="705.5" font-size="22" text-anchor="start" textLength="32.4" lengthAdjust="spacingAndGlyphs" >Irf3</text>
<text x="165.7" y="695.0" font-size="20" text-anchor="start" textLength="132.3" lengthAdjust="spacingAndGlyphs" >R278Q/278Q</text>
<line x1="126.1" y1="815.0" x2="126.1" y2="1044.6" stroke="#000" stroke-width="2.2"/>
<line x1="125.1" y1="1043.6" x2="248.0" y2="1043.6" stroke="#000" stroke-width="2.2"/>
<line x1="119.1" y1="816.0" x2="126.1" y2="816.0" stroke="#000" stroke-width="2"/>
<text x="117.5" y="825.0" font-size="25.5" text-anchor="end"  >8</text>
<line x1="119.1" y1="873.0" x2="126.1" y2="873.0" stroke="#000" stroke-width="2"/>
<text x="117.5" y="882.0" font-size="25.5" text-anchor="end"  >6</text>
<line x1="119.1" y1="930.0" x2="126.1" y2="930.0" stroke="#000" stroke-width="2"/>
<text x="117.5" y="939.0" font-size="25.5" text-anchor="end"  >4</text>
<line x1="119.1" y1="987.0" x2="126.1" y2="987.0" stroke="#000" stroke-width="2"/>
<text x="117.5" y="996.0" font-size="25.5" text-anchor="end"  >2</text>
<line x1="119.1" y1="1044.0" x2="126.1" y2="1044.0" stroke="#000" stroke-width="2"/>
<text x="117.5" y="1053.0" font-size="25.5" text-anchor="end"  >0</text>
<text x="56.3" y="924.7" font-size="23" text-anchor="middle" textLength="195.8" lengthAdjust="spacingAndGlyphs" transform="rotate(-90 56.3 924.7)" dx="0">Tnfa mRNA levels</text>
<text x="91.9" y="927.3" font-size="23" text-anchor="middle" textLength="127.4" lengthAdjust="spacingAndGlyphs" transform="rotate(-90 91.9 927.3)" >(LPS/Mock)</text>
<rect x="133.4" y="1014.1" width="10.1" height="29.5" fill="#4a36f2" stroke="#1e128a" stroke-width="2"/>
<rect x="152.0" y="1014.0" width="10.4" height="29.6" fill="#f24040" stroke="#7a1010" stroke-width="2"/>
<rect x="171.4" y="1003.9" width="10.1" height="39.7" fill="#d048f0" stroke="#5a1580" stroke-width="2"/>
<rect x="189.4" y="922.1" width="10.7" height="121.5" fill="#4a36f2" stroke="#1e128a" stroke-width="2"/>
<rect x="208.3" y="944.4" width="11.2" height="99.2" fill="#f24040" stroke="#7a1010" stroke-width="2"/>
<rect x="227.6" y="879.0" width="10.9" height="164.6" fill="#d048f0" stroke="#5a1580" stroke-width="2"/>
<line x1="138.4" y1="1009.7" x2="138.4" y2="1019.0" stroke="#000" stroke-width="2"/>
<line x1="133.4" y1="1009.7" x2="143.4" y2="1009.7" stroke="#000" stroke-width="2"/>
<line x1="133.4" y1="1019.0" x2="143.4" y2="1019.0" stroke="#000" stroke-width="2"/>
<line x1="176.5" y1="991.5" x2="176.5" y2="1016.0" stroke="#000" stroke-width="2"/>
<line x1="171.5" y1="991.5" x2="181.5" y2="991.5" stroke="#000" stroke-width="2"/>
<line x1="171.5" y1="1016.0" x2="181.5" y2="1016.0" stroke="#000" stroke-width="2"/>
<line x1="194.7" y1="919.2" x2="194.7" y2="925.0" stroke="#000" stroke-width="2"/>
<line x1="189.7" y1="919.2" x2="199.7" y2="919.2" stroke="#000" stroke-width="2"/>
<line x1="189.7" y1="925.0" x2="199.7" y2="925.0" stroke="#000" stroke-width="2"/>
<line x1="213.9" y1="931.6" x2="213.9" y2="955.0" stroke="#000" stroke-width="2"/>
<line x1="208.9" y1="931.6" x2="218.9" y2="931.6" stroke="#000" stroke-width="2"/>
<line x1="208.9" y1="955.0" x2="218.9" y2="955.0" stroke="#000" stroke-width="2"/>
<line x1="233.0" y1="869.1" x2="233.0" y2="889.0" stroke="#000" stroke-width="2"/>
<line x1="228.0" y1="869.1" x2="238.0" y2="869.1" stroke="#000" stroke-width="2"/>
<line x1="228.0" y1="889.0" x2="238.0" y2="889.0" stroke="#000" stroke-width="2"/>
<circle cx="138.4" cy="1001.0" r="3.2" fill="#000"/>
<circle cx="134.6" cy="1013.4" r="3.2" fill="#000"/>
<circle cx="141.9" cy="1018.5" r="3.2" fill="#000"/>
<circle cx="138.3" cy="1025.0" r="3.2" fill="#000"/>
<circle cx="153.6" cy="1011.9" r="3.2" fill="#000"/>
<circle cx="161.6" cy="1011.2" r="3.2" fill="#000"/>
<circle cx="153.6" cy="1020.7" r="3.2" fill="#000"/>
<circle cx="161.6" cy="1018.5" r="3.2" fill="#000"/>
<circle cx="176.2" cy="969.3" r="3.2" fill="#000"/>
<circle cx="176.2" cy="977.6" r="3.2" fill="#000"/>
<circle cx="176.2" cy="988.5" r="3.2" fill="#000"/>
<circle cx="176.2" cy="1019.2" r="3.2" fill="#000"/>
<circle cx="176.2" cy="1026.5" r="3.2" fill="#000"/>
<circle cx="176.2" cy="1040.0" r="3.2" fill="#000"/>
<circle cx="195.2" cy="908.6" r="3.2" fill="#000"/>
<circle cx="192.3" cy="928.7" r="3.2" fill="#000"/>
<circle cx="198.9" cy="925.7" r="3.2" fill="#000"/>
<circle cx="196.0" cy="921.4" r="3.2" fill="#000"/>
<circle cx="214.2" cy="898.7" r="3.2" fill="#000"/>
<circle cx="214.2" cy="927.9" r="3.2" fill="#000"/>
<circle cx="214.2" cy="938.9" r="3.2" fill="#000"/>
<circle cx="214.2" cy="950.6" r="3.2" fill="#000"/>
<circle cx="210.3" cy="976.1" r="3.2" fill="#000"/>
<circle cx="218.2" cy="971.7" r="3.2" fill="#000"/>
<circle cx="233.2" cy="890.7" r="3.2" fill="#000"/>
<circle cx="231.0" cy="909.7" r="3.2" fill="#000"/>
<circle cx="235.4" cy="906.7" r="3.2" fill="#000"/>
<circle cx="230.3" cy="855.7" r="3.2" fill="#000"/>
<circle cx="237.7" cy="857.0" r="3.2" fill="#000"/>
<circle cx="233.5" cy="856.0" r="3.2" fill="#000"/>
<line x1="131.2" y1="1059.4" x2="178.5" y2="1059.4" stroke="#000" stroke-width="2"/>
<line x1="192.2" y1="1059.4" x2="239.5" y2="1059.4" stroke="#000" stroke-width="2"/>
<text x="127.3" y="1083.0" font-size="22" text-anchor="start" textLength="49.9" lengthAdjust="spacingAndGlyphs" >Mock</text>
<text x="202.2" y="1083.0" font-size="22" text-anchor="start" textLength="30.2" lengthAdjust="spacingAndGlyphs" >LPS</text>
<text x="179.3" y="765.0" font-size="21" text-anchor="start" textLength="92.5" lengthAdjust="spacingAndGlyphs" >P = 0,016</text>
<polyline points="195.0,784.7 195.0,770.2 233.0,770.2 233.0,784.7" fill="none" stroke="#000" stroke-width="2"/>
<text x="172.0" y="817.5" font-size="21" text-anchor="start" textLength="81.0" lengthAdjust="spacingAndGlyphs" >P = 0,24</text>
<polyline points="195.0,840.0 195.0,824.6 214.0,824.6 214.0,840.0" fill="none" stroke="#000" stroke-width="2"/>
<line x1="394.3" y1="800.0" x2="394.3" y2="1044.3" stroke="#000" stroke-width="2.2"/>
<line x1="393.3" y1="1043.3" x2="523.0" y2="1043.3" stroke="#000" stroke-width="2.2"/>
<line x1="387.3" y1="801.0" x2="394.3" y2="801.0" stroke="#000" stroke-width="2"/>
<text x="385.5" y="810.0" font-size="25.5" text-anchor="end"  >80</text>
<line x1="387.3" y1="861.7" x2="394.3" y2="861.7" stroke="#000" stroke-width="2"/>
<text x="385.5" y="870.7" font-size="25.5" text-anchor="end"  >60</text>
<line x1="387.3" y1="922.0" x2="394.3" y2="922.0" stroke="#000" stroke-width="2"/>
<text x="385.5" y="931.0" font-size="25.5" text-anchor="end"  >40</text>
<line x1="387.3" y1="982.4" x2="394.3" y2="982.4" stroke="#000" stroke-width="2"/>
<text x="385.5" y="991.4" font-size="25.5" text-anchor="end"  >20</text>
<line x1="387.3" y1="1043.3" x2="394.3" y2="1043.3" stroke="#000" stroke-width="2"/>
<text x="385.5" y="1052.3" font-size="25.5" text-anchor="end"  >0</text>
<text x="303.2" y="918.7" font-size="23" text-anchor="middle" textLength="194.5" lengthAdjust="spacingAndGlyphs" transform="rotate(-90 303.2 918.7)" >IL6 mRNA levels</text>
<text x="340.0" y="920.0" font-size="23" text-anchor="middle" textLength="136.7" lengthAdjust="spacingAndGlyphs" transform="rotate(-90 340.0 920.0)" >(LPS/Mock)</text>
<rect x="401.5" y="1034.5" width="11.2" height="8.8" fill="#4a36f2" stroke="#1e128a" stroke-width="2"/>
<rect x="421.5" y="1041.5" width="11.0" height="1.8" fill="#f24040" stroke="#7a1010" stroke-width="2"/>
<rect x="441.5" y="1041.5" width="11.0" height="1.8" fill="#d048f0" stroke="#5a1580" stroke-width="2"/>
<rect x="461.7" y="962.6" width="11.4" height="80.7" fill="#4a36f2" stroke="#1e128a" stroke-width="2"/>
<rect x="482.8" y="987.8" width="10.7" height="55.5" fill="#f24040" stroke="#7a1010" stroke-width="2"/>
<rect x="503.4" y="980.6" width="9.8" height="62.7" fill="#d048f0" stroke="#5a1580" stroke-width="2"/>
<line x1="407.1" y1="1026.6" x2="407.1" y2="1038.0" stroke="#000" stroke-width="2"/>
<line x1="402.1" y1="1026.6" x2="412.1" y2="1026.6" stroke="#000" stroke-width="2"/>
<line x1="402.1" y1="1038.0" x2="412.1" y2="1038.0" stroke="#000" stroke-width="2"/>
<line x1="467.4" y1="934.6" x2="467.4" y2="988.8" stroke="#000" stroke-width="2"/>
<line x1="462.4" y1="934.6" x2="472.4" y2="934.6" stroke="#000" stroke-width="2"/>
<line x1="462.4" y1="988.8" x2="472.4" y2="988.8" stroke="#000" stroke-width="2"/>
<line x1="488.1" y1="958.9" x2="488.1" y2="1013.4" stroke="#000" stroke-width="2"/>
<line x1="483.1" y1="958.9" x2="493.1" y2="958.9" stroke="#000" stroke-width="2"/>
<line x1="483.1" y1="1013.4" x2="493.1" y2="1013.4" stroke="#000" stroke-width="2"/>
<line x1="508.3" y1="956.9" x2="508.3" y2="1004.9" stroke="#000" stroke-width="2"/>
<line x1="503.3" y1="956.9" x2="513.3" y2="956.9" stroke="#000" stroke-width="2"/>
<line x1="503.3" y1="1004.9" x2="513.3" y2="1004.9" stroke="#000" stroke-width="2"/>
<circle cx="407.1" cy="1012.1" r="3.2" fill="#000"/>
<circle cx="423.5" cy="1036.5" r="3.2" fill="#000"/>
<circle cx="427.0" cy="1039.5" r="3.2" fill="#000"/>
<circle cx="431.0" cy="1040.0" r="3.2" fill="#000"/>
<circle cx="445.0" cy="1039.0" r="3.2" fill="#000"/>
<circle cx="449.0" cy="1039.0" r="3.2" fill="#000"/>
<circle cx="452.0" cy="1040.0" r="3.2" fill="#000"/>
<circle cx="467.8" cy="908.3" r="3.2" fill="#000"/>
<circle cx="467.8" cy="944.4" r="3.2" fill="#000"/>
<circle cx="467.8" cy="959.5" r="3.2" fill="#000"/>
<circle cx="467.8" cy="1037.1" r="3.2" fill="#000"/>
<circle cx="487.7" cy="868.8" r="3.2" fill="#000"/>
<circle cx="487.9" cy="958.9" r="3.2" fill="#000"/>
<circle cx="487.9" cy="995.7" r="3.2" fill="#000"/>
<circle cx="484.0" cy="1027.9" r="3.2" fill="#000"/>
<circle cx="491.9" cy="1033.1" r="3.2" fill="#000"/>
<circle cx="484.0" cy="1033.0" r="3.2" fill="#000"/>
<circle cx="508.0" cy="885.9" r="3.2" fill="#000"/>
<circle cx="508.0" cy="943.1" r="3.2" fill="#000"/>
<circle cx="508.0" cy="972.0" r="3.2" fill="#000"/>
<circle cx="508.0" cy="1009.5" r="3.2" fill="#000"/>
<circle cx="508.0" cy="1030.5" r="3.2" fill="#000"/>
<circle cx="508.0" cy="1041.0" r="3.2" fill="#000"/>
<line x1="403.6" y1="1060.2" x2="450.9" y2="1060.2" stroke="#000" stroke-width="2"/>
<line x1="464.0" y1="1060.2" x2="511.9" y2="1060.2" stroke="#000" stroke-width="2"/>
<text x="399.6" y="1083.0" font-size="22" text-anchor="start" textLength="50.0" lengthAdjust="spacingAndGlyphs" >Mock</text>
<text x="473.2" y="1083.0" font-size="22" text-anchor="start" textLength="31.6" lengthAdjust="spacingAndGlyphs" >LPS</text>
<text x="448.2" y="774.7" font-size="21" text-anchor="start" textLength="80.2" lengthAdjust="spacingAndGlyphs" >P = 0,86</text>
<polyline points="468.0,796.5 468.0,780.2 508.2,780.2 508.2,796.5" fill="none" stroke="#000" stroke-width="2"/>
<text x="436.4" y="829.4" font-size="21" text-anchor="start" textLength="78.4" lengthAdjust="spacingAndGlyphs" >P = 0,77</text>
<polyline points="468.0,853.8 468.0,836.7 487.7,836.7 487.7,853.8" fill="none" stroke="#000" stroke-width="2"/>
<line x1="674.3" y1="823.5" x2="674.3" y2="1044.5" stroke="#000" stroke-width="2.2"/>
<line x1="673.3" y1="1043.5" x2="791.0" y2="1043.5" stroke="#000" stroke-width="2.2"/>
<line x1="667.3" y1="824.6" x2="674.3" y2="824.6" stroke="#000" stroke-width="2"/>
<text x="666.5" y="833.6" font-size="25.5" text-anchor="end"  >100</text>
<line x1="667.3" y1="868.4" x2="674.3" y2="868.4" stroke="#000" stroke-width="2"/>
<text x="666.5" y="877.4" font-size="25.5" text-anchor="end"  >80</text>
<line x1="667.3" y1="912.2" x2="674.3" y2="912.2" stroke="#000" stroke-width="2"/>
<text x="666.5" y="921.2" font-size="25.5" text-anchor="end"  >60</text>
<line x1="667.3" y1="955.9" x2="674.3" y2="955.9" stroke="#000" stroke-width="2"/>
<text x="666.5" y="964.9" font-size="25.5" text-anchor="end"  >40</text>
<line x1="667.3" y1="999.7" x2="674.3" y2="999.7" stroke="#000" stroke-width="2"/>
<text x="666.5" y="1008.7" font-size="25.5" text-anchor="end"  >20</text>
<line x1="667.3" y1="1043.5" x2="674.3" y2="1043.5" stroke="#000" stroke-width="2"/>
<text x="666.5" y="1052.5" font-size="25.5" text-anchor="end"  >0</text>
<text x="579.6" y="931.3" font-size="23" text-anchor="middle" textLength="213.4" lengthAdjust="spacingAndGlyphs" transform="rotate(-90 579.6 931.3)" >Cxcl10 mRNA levels</text>
<text x="612.0" y="931.3" font-size="23" text-anchor="middle" textLength="121.7" lengthAdjust="spacingAndGlyphs" transform="rotate(-90 612.0 931.3)" >(LPS/Mock)</text>
<rect x="681.0" y="1041.3" width="10.0" height="2.2" fill="#4a36f2" stroke="#1e128a" stroke-width="2"/>
<rect x="700.0" y="1041.3" width="10.0" height="2.2" fill="#f24040" stroke="#7a1010" stroke-width="2"/>
<rect x="719.0" y="1041.0" width="10.0" height="2.5" fill="#d048f0" stroke="#5a1580" stroke-width="2"/>
<rect x="737.5" y="896.0" width="8.8" height="147.5" fill="#4a36f2" stroke="#1e128a" stroke-width="2"/>
<rect x="754.5" y="997.6" width="9.9" height="45.9" fill="#f24040" stroke="#7a1010" stroke-width="2"/>
<rect x="773.0" y="923.0" width="9.0" height="120.5" fill="#d048f0" stroke="#5a1580" stroke-width="2"/>
<line x1="741.9" y1="878.6" x2="741.9" y2="913.2" stroke="#000" stroke-width="2"/>
<line x1="736.9" y1="878.6" x2="746.9" y2="878.6" stroke="#000" stroke-width="2"/>
<line x1="736.9" y1="913.2" x2="746.9" y2="913.2" stroke="#000" stroke-width="2"/>
<line x1="759.5" y1="973.8" x2="759.5" y2="1021.9" stroke="#000" stroke-width="2"/>
<line x1="754.5" y1="973.8" x2="764.5" y2="973.8" stroke="#000" stroke-width="2"/>
<line x1="754.5" y1="1021.9" x2="764.5" y2="1021.9" stroke="#000" stroke-width="2"/>
<line x1="777.5" y1="898.9" x2="777.5" y2="946.2" stroke="#000" stroke-width="2"/>
<line x1="772.5" y1="898.9" x2="782.5" y2="898.9" stroke="#000" stroke-width="2"/>
<line x1="772.5" y1="946.2" x2="782.5" y2="946.2" stroke="#000" stroke-width="2"/>
<circle cx="683.0" cy="1040.5" r="3.2" fill="#000"/>
<circle cx="688.0" cy="1040.0" r="3.2" fill="#000"/>
<circle cx="691.0" cy="1041.0" r="3.2" fill="#000"/>
<circle cx="703.0" cy="1040.5" r="3.2" fill="#000"/>
<circle cx="708.0" cy="1040.5" r="3.2" fill="#000"/>
<circle cx="711.0" cy="1041.0" r="3.2" fill="#000"/>
<circle cx="722.0" cy="1039.0" r="3.2" fill="#000"/>
<circle cx="726.0" cy="1038.5" r="3.2" fill="#000"/>
<circle cx="728.0" cy="1041.0" r="3.2" fill="#000"/>
<circle cx="741.4" cy="846.2" r="3.2" fill="#000"/>
<circle cx="741.4" cy="877.3" r="3.2" fill="#000"/>
<circle cx="741.4" cy="894.9" r="3.2" fill="#000"/>
<circle cx="741.4" cy="922.4" r="3.2" fill="#000"/>
<circle cx="741.4" cy="938.6" r="3.2" fill="#000"/>
<circle cx="759.5" cy="880.0" r="3.2" fill="#000"/>
<circle cx="759.5" cy="1000.3" r="3.2" fill="#000"/>
<circle cx="759.5" cy="1011.0" r="3.2" fill="#000"/>
<circle cx="756.0" cy="1030.5" r="3.2" fill="#000"/>
<circle cx="763.5" cy="1030.5" r="3.2" fill="#000"/>
<circle cx="778.4" cy="843.5" r="3.2" fill="#000"/>
<circle cx="778.4" cy="876.5" r="3.2" fill="#000"/>
<circle cx="778.4" cy="916.0" r="3.2" fill="#000"/>
<circle cx="774.3" cy="942.2" r="3.2" fill="#000"/>
<circle cx="780.3" cy="946.2" r="3.2" fill="#000"/>
<circle cx="778.4" cy="1013.8" r="3.2" fill="#000"/>
<line x1="675.0" y1="1053.8" x2="723.0" y2="1053.8" stroke="#000" stroke-width="2"/>
<text x="671.5" y="1077.0" font-size="22" text-anchor="start" textLength="50.0" lengthAdjust="spacingAndGlyphs" >Mock</text>
<text x="744.5" y="1077.0" font-size="22" text-anchor="start" textLength="31.6" lengthAdjust="spacingAndGlyphs" >LPS</text>
<text x="728.4" y="757.0" font-size="21" text-anchor="start" textLength="79.7" lengthAdjust="spacingAndGlyphs" >P = 0,60</text>
<polyline points="741.0,777.3 741.0,763.0 778.4,763.0 778.4,777.3" fill="none" stroke="#000" stroke-width="2"/>
<text x="719.7" y="808.4" font-size="21" text-anchor="start" textLength="91.1" lengthAdjust="spacingAndGlyphs" >P = 0,016</text>
<polyline points="741.0,828.6 741.0,815.1 759.5,815.1 759.5,828.6" fill="none" stroke="#000" stroke-width="2"/>
<text x="947.5" y="23.8" font-size="32.5" text-anchor="start" textLength="63.5" lengthAdjust="spacingAndGlyphs" >KIRC</text>
<text x="944.8" y="464.6" font-size="32" text-anchor="start" textLength="71.8" lengthAdjust="spacingAndGlyphs" >CESC</text>
<text x="961.6" y="942.2" font-size="32" text-anchor="start" textLength="71.5" lengthAdjust="spacingAndGlyphs" >LUSC</text>
<rect x="1480.4" y="2.1" width="19.3" height="19.9" fill="#dcdcdc" stroke="#000" stroke-width="2"/>
<rect x="1480.4" y="30.7" width="19.3" height="17.2" fill="#f03c3c" stroke="#000" stroke-width="2"/>
<text x="1515.0" y="16.5" font-size="21.5" text-anchor="start" textLength="196.0" lengthAdjust="spacingAndGlyphs" >Low (Bottom 25%)</text>
<text x="1713.0" y="16.5" font-size="21.5" text-anchor="start" textLength="157.4" lengthAdjust="spacingAndGlyphs" >n=134 patients</text>
<text x="1515.0" y="47.3" font-size="21.5" text-anchor="start" textLength="159.6" lengthAdjust="spacingAndGlyphs" >High (Top 25%)</text>
<text x="1713.0" y="47.3" font-size="21.5" text-anchor="start" textLength="157.4" lengthAdjust="spacingAndGlyphs" >n=133 patients</text>
<rect x="1485.6" y="472.8" width="17.7" height="16.8" fill="#dcdcdc" stroke="#000" stroke-width="2"/>
<rect x="1486.0" y="499.2" width="18.4" height="17.1" fill="#f03c3c" stroke="#000" stroke-width="2"/>
<text x="1510.8" y="486.8" font-size="22" text-anchor="start" textLength="198.6" lengthAdjust="spacingAndGlyphs" >Low (Bottom 25%)</text>
<text x="1714.8" y="486.8" font-size="22" text-anchor="start" textLength="144.9" lengthAdjust="spacingAndGlyphs" >n=76 patients</text>
<text x="1510.8" y="518.0" font-size="22" text-anchor="start" textLength="162.8" lengthAdjust="spacingAndGlyphs" >High (Top 25%)</text>
<text x="1714.8" y="518.0" font-size="22" text-anchor="start" textLength="144.9" lengthAdjust="spacingAndGlyphs" >n=76 patients</text>
<rect x="1462.3" y="927.7" width="20.4" height="19.3" fill="#dcdcdc" stroke="#000" stroke-width="2"/>
<rect x="1462.3" y="957.0" width="21.5" height="19.3" fill="#f03c3c" stroke="#000" stroke-width="2"/>
<text x="1490.1" y="943.2" font-size="22" text-anchor="start" textLength="160.5" lengthAdjust="spacingAndGlyphs" >High (Top 25%)</text>
<text x="1690.0" y="943.2" font-size="22" text-anchor="start" textLength="159.0" lengthAdjust="spacingAndGlyphs" >n=125 patients</text>
<text x="1490.1" y="979.2" font-size="22" text-anchor="start" textLength="196.6" lengthAdjust="spacingAndGlyphs" >Low (Bottom 25%)</text>
<text x="1688.5" y="979.2" font-size="22" text-anchor="start" textLength="160.5" lengthAdjust="spacingAndGlyphs" >n=126 patients</text>
<line x1="1027.0" y1="149.6" x2="1027.0" y2="365.6" stroke="#000" stroke-width="2"/>
<line x1="1026.0" y1="364.6" x2="1125.3" y2="364.6" stroke="#000" stroke-width="2"/>
<line x1="1017.0" y1="149.6" x2="1027.0" y2="149.6" stroke="#000" stroke-width="2"/>
<text x="1013.8" y="158.9" font-size="25.7" text-anchor="end" textLength="13.8" lengthAdjust="spacingAndGlyphs" stroke="#000" stroke-width="0.25">6</text>
<line x1="1017.0" y1="203.5" x2="1027.0" y2="203.5" stroke="#000" stroke-width="2"/>
<text x="1013.8" y="212.8" font-size="25.7" text-anchor="end" textLength="13.8" lengthAdjust="spacingAndGlyphs" stroke="#000" stroke-width="0.25">4</text>
<line x1="1017.0" y1="257.6" x2="1027.0" y2="257.6" stroke="#000" stroke-width="2"/>
<text x="1013.8" y="266.9" font-size="25.7" text-anchor="end" textLength="13.8" lengthAdjust="spacingAndGlyphs" stroke="#000" stroke-width="0.25">2</text>
<line x1="1017.0" y1="310.6" x2="1027.0" y2="310.6" stroke="#000" stroke-width="2"/>
<text x="1013.8" y="319.9" font-size="25.7" text-anchor="end" textLength="13.8" lengthAdjust="spacingAndGlyphs" stroke="#000" stroke-width="0.25">0</text>
<line x1="1017.0" y1="364.6" x2="1027.0" y2="364.6" stroke="#000" stroke-width="2"/>
<text x="1013.8" y="373.9" font-size="25.7" text-anchor="end" textLength="22.0" lengthAdjust="spacingAndGlyphs" stroke="#000" stroke-width="0.25">-2</text>
<line x1="1054.3" y1="279.2" x2="1054.3" y2="296.4" stroke="#000" stroke-width="2"/>
<line x1="1054.3" y1="307.8" x2="1054.3" y2="310.6" stroke="#000" stroke-width="2"/>
<line x1="1047.3" y1="279.2" x2="1061.3" y2="279.2" stroke="#000" stroke-width="2"/>
<line x1="1047.3" y1="310.6" x2="1061.3" y2="310.6" stroke="#000" stroke-width="2"/>
<rect x="1040.3" y="296.4" width="28.0" height="11.4" fill="#dcdcdc" stroke="#000" stroke-width="2"/>
<line x1="1040.3" y1="302.8" x2="1068.3" y2="302.8" stroke="#000" stroke-width="2"/>
<circle cx="1054.3" cy="238.0" r="2.1" fill="#000"/>
<circle cx="1056.3" cy="241.0" r="2.1" fill="#000"/>
<circle cx="1054.3" cy="244.5" r="2.1" fill="#000"/>
<circle cx="1054.3" cy="262.5" r="2.1" fill="#000"/>
<circle cx="1052.3" cy="265.0" r="2.1" fill="#000"/>
<circle cx="1054.3" cy="269.5" r="2.1" fill="#000"/>
<circle cx="1057.3" cy="271.4" r="2.1" fill="#000"/>
<circle cx="1054.3" cy="275.0" r="2.1" fill="#000"/>
<line x1="1096.0" y1="260.3" x2="1096.0" y2="290.3" stroke="#000" stroke-width="2"/>
<line x1="1096.0" y1="304.2" x2="1096.0" y2="310.6" stroke="#000" stroke-width="2"/>
<line x1="1089.0" y1="260.3" x2="1103.0" y2="260.3" stroke="#000" stroke-width="2"/>
<line x1="1089.0" y1="310.6" x2="1103.0" y2="310.6" stroke="#000" stroke-width="2"/>
<rect x="1082.0" y="290.3" width="28.0" height="13.9" fill="#f03c3c" stroke="#000" stroke-width="2"/>
<line x1="1082.0" y1="297.2" x2="1110.0" y2="297.2" stroke="#000" stroke-width="2"/>
<circle cx="1096.0" cy="171.0" r="2.1" fill="#000"/>
<circle cx="1094.0" cy="195.0" r="2.1" fill="#000"/>
<circle cx="1098.0" cy="196.0" r="2.1" fill="#000"/>
<circle cx="1096.0" cy="217.6" r="2.1" fill="#000"/>
<circle cx="1096.0" cy="226.5" r="2.1" fill="#000"/>
<circle cx="1096.0" cy="232.0" r="2.1" fill="#000"/>
<circle cx="1093.0" cy="240.0" r="2.1" fill="#000"/>
<circle cx="1099.0" cy="242.0" r="2.1" fill="#000"/>
<circle cx="1096.0" cy="244.5" r="2.1" fill="#000"/>
<circle cx="1092.0" cy="250.0" r="2.1" fill="#000"/>
<circle cx="1100.0" cy="251.5" r="2.1" fill="#000"/>
<circle cx="1096.0" cy="254.0" r="2.1" fill="#000"/>
<circle cx="1096.0" cy="258.4" r="2.1" fill="#000"/>
<text x="1076.6" y="105.8" font-size="23" text-anchor="middle" font-style="italic" >TNFa</text>
<text x="1030.0" y="135.5" font-size="23.1" textLength="139.0" lengthAdjust="spacingAndGlyphs"><tspan font-style="italic" font-size="20.3">P</tspan> = 0,0000094</text>
<line x1="1053.0" y1="145.5" x2="1097.0" y2="145.5" stroke="#000" stroke-width="2"/>
<text x="985.8" y="250.8" font-size="25" text-anchor="middle" textLength="61.1" lengthAdjust="spacingAndGlyphs" transform="rotate(-90 985.8 250.8)" stroke="#000" stroke-width="0.5">FPKM</text>
<text x="1058.3" y="390.6" font-size="23.8" text-anchor="end"  transform="rotate(-45 1058.3 390.6)" >Low</text>
<text x="1102.0" y="390.6" font-size="23.8" text-anchor="end"  transform="rotate(-45 1102.0 390.6)" >High</text>
<line x1="1203.5" y1="147.4" x2="1203.5" y2="362.8" stroke="#000" stroke-width="2"/>
<line x1="1202.5" y1="361.8" x2="1302.0" y2="361.8" stroke="#000" stroke-width="2"/>
<line x1="1193.5" y1="183.4" x2="1203.5" y2="183.4" stroke="#000" stroke-width="2"/>
<text x="1190.3" y="192.7" font-size="25.7" text-anchor="end" textLength="27.6" lengthAdjust="spacingAndGlyphs" stroke="#000" stroke-width="0.25">40</text>
<line x1="1193.5" y1="254.2" x2="1203.5" y2="254.2" stroke="#000" stroke-width="2"/>
<text x="1190.3" y="263.5" font-size="25.7" text-anchor="end" textLength="27.6" lengthAdjust="spacingAndGlyphs" stroke="#000" stroke-width="0.25">20</text>
<line x1="1193.5" y1="326.3" x2="1203.5" y2="326.3" stroke="#000" stroke-width="2"/>
<text x="1190.3" y="335.6" font-size="25.7" text-anchor="end" textLength="13.8" lengthAdjust="spacingAndGlyphs" stroke="#000" stroke-width="0.25">0</text>
<line x1="1230.7" y1="361.8" x2="1230.7" y2="372.3" stroke="#000" stroke-width="2"/>
<line x1="1272.3" y1="361.8" x2="1272.3" y2="372.3" stroke="#000" stroke-width="2"/>
<line x1="1230.7" y1="318.0" x2="1230.7" y2="321.5" stroke="#000" stroke-width="2"/>
<line x1="1230.7" y1="325.7" x2="1230.7" y2="326.0" stroke="#000" stroke-width="2"/>
<line x1="1223.7" y1="318.0" x2="1237.7" y2="318.0" stroke="#000" stroke-width="2"/>
<line x1="1223.7" y1="326.0" x2="1237.7" y2="326.0" stroke="#000" stroke-width="2"/>
<rect x="1216.2" y="321.5" width="29.0" height="4.2" fill="#dcdcdc" stroke="#000" stroke-width="2"/>
<line x1="1216.2" y1="324.5" x2="1245.2" y2="324.5" stroke="#000" stroke-width="2"/>
<circle cx="1230.7" cy="283.0" r="2.1" fill="#000"/>
<circle cx="1230.7" cy="287.5" r="2.1" fill="#000"/>
<circle cx="1230.7" cy="292.0" r="2.1" fill="#000"/>
<circle cx="1230.7" cy="296.0" r="2.1" fill="#000"/>
<circle cx="1230.7" cy="300.5" r="2.1" fill="#000"/>
<circle cx="1227.7" cy="305.0" r="2.1" fill="#000"/>
<circle cx="1221.7" cy="314.0" r="2.1" fill="#000"/>
<circle cx="1225.7" cy="313.5" r="2.1" fill="#000"/>
<circle cx="1230.7" cy="314.5" r="2.1" fill="#000"/>
<circle cx="1235.7" cy="313.5" r="2.1" fill="#000"/>
<circle cx="1240.7" cy="315.0" r="2.1" fill="#000"/>
<circle cx="1244.7" cy="316.5" r="2.1" fill="#000"/>
<circle cx="1218.7" cy="317.0" r="2.1" fill="#000"/>
<circle cx="1224.7" cy="318.0" r="2.1" fill="#000"/>
<circle cx="1233.7" cy="318.0" r="2.1" fill="#000"/>
<circle cx="1238.7" cy="317.5" r="2.1" fill="#000"/>
<line x1="1272.3" y1="289.7" x2="1272.3" y2="308.3" stroke="#000" stroke-width="2"/>
<line x1="1272.3" y1="323.5" x2="1272.3" y2="325.0" stroke="#000" stroke-width="2"/>
<line x1="1265.3" y1="289.7" x2="1279.3" y2="289.7" stroke="#000" stroke-width="2"/>
<line x1="1265.3" y1="325.0" x2="1279.3" y2="325.0" stroke="#000" stroke-width="2"/>
<rect x="1258.3" y="308.3" width="28.0" height="15.2" fill="#f03c3c" stroke="#000" stroke-width="2"/>
<line x1="1258.3" y1="322.5" x2="1286.3" y2="322.5" stroke="#000" stroke-width="2"/>
<circle cx="1270.3" cy="168.2" r="2.1" fill="#000"/>
<circle cx="1274.3" cy="168.2" r="2.1" fill="#000"/>
<circle cx="1270.3" cy="171.0" r="2.1" fill="#000"/>
<circle cx="1274.3" cy="171.0" r="2.1" fill="#000"/>
<circle cx="1272.3" cy="195.1" r="2.1" fill="#000"/>
<circle cx="1272.3" cy="225.9" r="2.1" fill="#000"/>
<circle cx="1272.3" cy="250.8" r="2.1" fill="#000"/>
<circle cx="1272.3" cy="254.2" r="2.1" fill="#000"/>
<circle cx="1272.3" cy="261.1" r="2.1" fill="#000"/>
<circle cx="1272.3" cy="273.6" r="2.1" fill="#000"/>
<circle cx="1272.3" cy="279.1" r="2.1" fill="#000"/>
<circle cx="1270.3" cy="276.0" r="2.1" fill="#000"/>
<circle cx="1274.3" cy="276.0" r="2.1" fill="#000"/>
<text x="1252.0" y="101.6" font-size="23" text-anchor="middle" font-style="italic" >IL6</text>
<text x="1205.4" y="148.0" font-size="20.9" textLength="109.0" lengthAdjust="spacingAndGlyphs"><tspan font-style="italic" font-size="18.4">P</tspan> <0,000001</text>
<line x1="1231.0" y1="157.0" x2="1273.7" y2="157.0" stroke="#000" stroke-width="2"/>
<text x="1158.0" y="247.8" font-size="25" text-anchor="middle" textLength="61.2" lengthAdjust="spacingAndGlyphs" transform="rotate(-90 1158.0 247.8)" stroke="#000" stroke-width="0.5">FPKM</text>
<text x="1231.7" y="395.8" font-size="23.8" text-anchor="end"  transform="rotate(-45 1231.7 395.8)" >Low</text>
<text x="1278.3" y="395.8" font-size="23.8" text-anchor="end"  transform="rotate(-45 1278.3 395.8)" >High</text>
<line x1="1387.7" y1="144.6" x2="1387.7" y2="359.7" stroke="#000" stroke-width="2"/>
<line x1="1386.7" y1="358.7" x2="1486.7" y2="358.7" stroke="#000" stroke-width="2"/>
<line x1="1377.7" y1="144.6" x2="1387.7" y2="144.6" stroke="#000" stroke-width="2"/>
<text x="1374.5" y="153.9" font-size="25.7" text-anchor="end" textLength="27.6" lengthAdjust="spacingAndGlyphs" stroke="#000" stroke-width="0.25">60</text>
<line x1="1377.7" y1="198.1" x2="1387.7" y2="198.1" stroke="#000" stroke-width="2"/>
<text x="1374.5" y="207.4" font-size="25.7" text-anchor="end" textLength="27.6" lengthAdjust="spacingAndGlyphs" stroke="#000" stroke-width="0.25">40</text>
<line x1="1377.7" y1="251.4" x2="1387.7" y2="251.4" stroke="#000" stroke-width="2"/>
<text x="1374.5" y="260.7" font-size="25.7" text-anchor="end" textLength="27.6" lengthAdjust="spacingAndGlyphs" stroke="#000" stroke-width="0.25">20</text>
<line x1="1377.7" y1="305.5" x2="1387.7" y2="305.5" stroke="#000" stroke-width="2"/>
<text x="1374.5" y="314.8" font-size="25.7" text-anchor="end" textLength="13.8" lengthAdjust="spacingAndGlyphs" stroke="#000" stroke-width="0.25">0</text>
<line x1="1377.7" y1="358.7" x2="1387.7" y2="358.7" stroke="#000" stroke-width="2"/>
<text x="1374.5" y="368.0" font-size="25.7" text-anchor="end" textLength="35.8" lengthAdjust="spacingAndGlyphs" stroke="#000" stroke-width="0.25">-20</text>
<line x1="1415.9" y1="358.7" x2="1415.9" y2="369.2" stroke="#000" stroke-width="2"/>
<line x1="1457.2" y1="358.7" x2="1457.2" y2="369.2" stroke="#000" stroke-width="2"/>
<line x1="1415.9" y1="220.3" x2="1415.9" y2="257.5" stroke="#000" stroke-width="2"/>
<line x1="1415.9" y1="281.0" x2="1415.9" y2="301.3" stroke="#000" stroke-width="2"/>
<line x1="1408.9" y1="220.3" x2="1422.9" y2="220.3" stroke="#000" stroke-width="2"/>
<line x1="1408.9" y1="301.3" x2="1422.9" y2="301.3" stroke="#000" stroke-width="2"/>
<rect x="1402.4" y="257.5" width="27.0" height="23.5" fill="#dcdcdc" stroke="#000" stroke-width="2"/>
<line x1="1402.4" y1="268.6" x2="1429.4" y2="268.6" stroke="#000" stroke-width="2"/>
<circle cx="1413.9" cy="162.6" r="2.1" fill="#000"/>
<circle cx="1417.9" cy="162.6" r="2.1" fill="#000"/>
<circle cx="1415.9" cy="184.8" r="2.1" fill="#000"/>
<circle cx="1415.9" cy="193.7" r="2.1" fill="#000"/>
<circle cx="1412.9" cy="207.6" r="2.1" fill="#000"/>
<circle cx="1418.9" cy="207.6" r="2.1" fill="#000"/>
<line x1="1457.2" y1="212.6" x2="1457.2" y2="248.6" stroke="#000" stroke-width="2"/>
<line x1="1457.2" y1="270.8" x2="1457.2" y2="288.8" stroke="#000" stroke-width="2"/>
<line x1="1450.2" y1="212.6" x2="1464.2" y2="212.6" stroke="#000" stroke-width="2"/>
<line x1="1450.2" y1="288.8" x2="1464.2" y2="288.8" stroke="#000" stroke-width="2"/>
<rect x="1443.2" y="248.6" width="28.0" height="22.2" fill="#f03c3c" stroke="#000" stroke-width="2"/>
<line x1="1443.2" y1="262.0" x2="1471.2" y2="262.0" stroke="#000" stroke-width="2"/>
<circle cx="1457.2" cy="164.0" r="2.1" fill="#000"/>
<circle cx="1457.2" cy="171.0" r="2.1" fill="#000"/>
<circle cx="1457.2" cy="193.0" r="2.1" fill="#000"/>
<circle cx="1454.2" cy="204.0" r="2.1" fill="#000"/>
<circle cx="1460.2" cy="204.0" r="2.1" fill="#000"/>
<circle cx="1457.2" cy="207.0" r="2.1" fill="#000"/>
<text x="1443.0" y="104.4" font-size="23" text-anchor="middle" font-style="italic" >NFKB2</text>
<text x="1389.0" y="139.6" font-size="19.6" textLength="113.8" lengthAdjust="spacingAndGlyphs"><tspan font-style="italic" font-size="17.2">P</tspan> = 0,00028</text>
<line x1="1418.0" y1="148.0" x2="1466.7" y2="148.0" stroke="#000" stroke-width="2"/>
<text x="1339.8" y="246.5" font-size="25" text-anchor="middle" textLength="61.2" lengthAdjust="spacingAndGlyphs" transform="rotate(-90 1339.8 246.5)" stroke="#000" stroke-width="0.5">FPKM</text>
<text x="1416.9" y="392.7" font-size="23.8" text-anchor="end"  transform="rotate(-45 1416.9 392.7)" >Low</text>
<text x="1463.2" y="392.7" font-size="23.8" text-anchor="end"  transform="rotate(-45 1463.2 392.7)" >High</text>
<line x1="1559.9" y1="146.0" x2="1559.9" y2="360.6" stroke="#000" stroke-width="2"/>
<line x1="1558.9" y1="359.6" x2="1658.4" y2="359.6" stroke="#000" stroke-width="2"/>
<line x1="1549.9" y1="146.0" x2="1559.9" y2="146.0" stroke="#000" stroke-width="2"/>
<text x="1546.7" y="155.3" font-size="25.7" text-anchor="end" textLength="13.8" lengthAdjust="spacingAndGlyphs" stroke="#000" stroke-width="0.25">5</text>
<line x1="1549.9" y1="189.0" x2="1559.9" y2="189.0" stroke="#000" stroke-width="2"/>
<text x="1546.7" y="198.3" font-size="25.7" text-anchor="end" textLength="13.8" lengthAdjust="spacingAndGlyphs" stroke="#000" stroke-width="0.25">4</text>
<line x1="1549.9" y1="231.4" x2="1559.9" y2="231.4" stroke="#000" stroke-width="2"/>
<text x="1546.7" y="240.7" font-size="25.7" text-anchor="end" textLength="13.8" lengthAdjust="spacingAndGlyphs" stroke="#000" stroke-width="0.25">3</text>
<line x1="1549.9" y1="274.1" x2="1559.9" y2="274.1" stroke="#000" stroke-width="2"/>
<text x="1546.7" y="283.4" font-size="25.7" text-anchor="end" textLength="13.8" lengthAdjust="spacingAndGlyphs" stroke="#000" stroke-width="0.25">2</text>
<line x1="1549.9" y1="317.4" x2="1559.9" y2="317.4" stroke="#000" stroke-width="2"/>
<text x="1546.7" y="326.7" font-size="25.7" text-anchor="end" textLength="13.8" lengthAdjust="spacingAndGlyphs" stroke="#000" stroke-width="0.25">1</text>
<line x1="1549.9" y1="359.6" x2="1559.9" y2="359.6" stroke="#000" stroke-width="2"/>
<text x="1546.7" y="368.9" font-size="25.7" text-anchor="end" textLength="13.8" lengthAdjust="spacingAndGlyphs" stroke="#000" stroke-width="0.25">0</text>
<line x1="1588.0" y1="359.6" x2="1588.0" y2="370.1" stroke="#000" stroke-width="2"/>
<line x1="1629.5" y1="359.6" x2="1629.5" y2="370.1" stroke="#000" stroke-width="2"/>
<line x1="1588.0" y1="306.3" x2="1588.0" y2="330.5" stroke="#000" stroke-width="2"/>
<line x1="1588.0" y1="347.0" x2="1588.0" y2="359.6" stroke="#000" stroke-width="2"/>
<line x1="1581.0" y1="306.3" x2="1595.0" y2="306.3" stroke="#000" stroke-width="2"/>
<line x1="1581.0" y1="359.6" x2="1595.0" y2="359.6" stroke="#000" stroke-width="2"/>
<rect x="1574.5" y="330.5" width="27.0" height="16.5" fill="#dcdcdc" stroke="#000" stroke-width="2"/>
<line x1="1574.5" y1="341.5" x2="1601.5" y2="341.5" stroke="#000" stroke-width="2"/>
<circle cx="1588.0" cy="253.6" r="2.1" fill="#000"/>
<circle cx="1588.0" cy="272.2" r="2.1" fill="#000"/>
<circle cx="1588.0" cy="279.0" r="2.1" fill="#000"/>
<circle cx="1588.0" cy="282.0" r="2.1" fill="#000"/>
<circle cx="1588.0" cy="286.0" r="2.1" fill="#000"/>
<circle cx="1588.0" cy="301.0" r="2.1" fill="#000"/>
<line x1="1629.5" y1="273.6" x2="1629.5" y2="309.7" stroke="#000" stroke-width="2"/>
<line x1="1629.5" y1="335.2" x2="1629.5" y2="353.2" stroke="#000" stroke-width="2"/>
<line x1="1622.5" y1="273.6" x2="1636.5" y2="273.6" stroke="#000" stroke-width="2"/>
<line x1="1622.5" y1="353.2" x2="1636.5" y2="353.2" stroke="#000" stroke-width="2"/>
<rect x="1615.5" y="309.7" width="28.0" height="25.5" fill="#f03c3c" stroke="#000" stroke-width="2"/>
<line x1="1615.5" y1="324.4" x2="1643.5" y2="324.4" stroke="#000" stroke-width="2"/>
<circle cx="1629.5" cy="157.0" r="2.1" fill="#000"/>
<circle cx="1629.5" cy="224.0" r="2.1" fill="#000"/>
<circle cx="1629.5" cy="237.5" r="2.1" fill="#000"/>
<circle cx="1629.5" cy="254.0" r="2.1" fill="#000"/>
<circle cx="1627.5" cy="266.7" r="2.1" fill="#000"/>
<circle cx="1631.5" cy="266.7" r="2.1" fill="#000"/>
<text x="1609.3" y="98.8" font-size="23" text-anchor="middle" font-style="italic" >IL23</text>
<text x="1565.5" y="135.5" font-size="21.0" textLength="109.0" lengthAdjust="spacingAndGlyphs"><tspan font-style="italic" font-size="18.5">P</tspan> <0,000001</text>
<line x1="1585.7" y1="144.0" x2="1630.0" y2="144.0" stroke="#000" stroke-width="2"/>
<text x="1528.1" y="246.5" font-size="25" text-anchor="middle" textLength="61.2" lengthAdjust="spacingAndGlyphs" transform="rotate(-90 1528.1 246.5)" stroke="#000" stroke-width="0.5">FPKM</text>
<text x="1589.0" y="393.6" font-size="23.8" text-anchor="end"  transform="rotate(-45 1589.0 393.6)" >Low</text>
<text x="1635.5" y="393.6" font-size="23.8" text-anchor="end"  transform="rotate(-45 1635.5 393.6)" >High</text>
<line x1="1748.8" y1="142.7" x2="1748.8" y2="358.4" stroke="#000" stroke-width="2"/>
<line x1="1747.8" y1="357.4" x2="1846.5" y2="357.4" stroke="#000" stroke-width="2"/>
<line x1="1738.8" y1="142.7" x2="1748.8" y2="142.7" stroke="#000" stroke-width="2"/>
<text x="1735.6" y="152.0" font-size="25.7" text-anchor="end" textLength="55.2" lengthAdjust="spacingAndGlyphs" stroke="#000" stroke-width="0.25">5000</text>
<line x1="1738.8" y1="186.2" x2="1748.8" y2="186.2" stroke="#000" stroke-width="2"/>
<text x="1735.6" y="195.5" font-size="25.7" text-anchor="end" textLength="55.2" lengthAdjust="spacingAndGlyphs" stroke="#000" stroke-width="0.25">4000</text>
<line x1="1738.8" y1="228.7" x2="1748.8" y2="228.7" stroke="#000" stroke-width="2"/>
<text x="1735.6" y="238.0" font-size="25.7" text-anchor="end" textLength="55.2" lengthAdjust="spacingAndGlyphs" stroke="#000" stroke-width="0.25">3000</text>
<line x1="1738.8" y1="271.4" x2="1748.8" y2="271.4" stroke="#000" stroke-width="2"/>
<text x="1735.6" y="280.7" font-size="25.7" text-anchor="end" textLength="55.2" lengthAdjust="spacingAndGlyphs" stroke="#000" stroke-width="0.25">2000</text>
<line x1="1738.8" y1="314.7" x2="1748.8" y2="314.7" stroke="#000" stroke-width="2"/>
<text x="1735.6" y="324.0" font-size="25.7" text-anchor="end" textLength="55.2" lengthAdjust="spacingAndGlyphs" stroke="#000" stroke-width="0.25">1000</text>
<line x1="1738.8" y1="357.4" x2="1748.8" y2="357.4" stroke="#000" stroke-width="2"/>
<text x="1735.6" y="366.7" font-size="25.7" text-anchor="end" textLength="13.8" lengthAdjust="spacingAndGlyphs" stroke="#000" stroke-width="0.25">0</text>
<line x1="1776.3" y1="357.4" x2="1776.3" y2="367.9" stroke="#000" stroke-width="2"/>
<line x1="1817.8" y1="357.4" x2="1817.8" y2="367.9" stroke="#000" stroke-width="2"/>
<line x1="1776.3" y1="240.4" x2="1776.3" y2="284.2" stroke="#000" stroke-width="2"/>
<line x1="1776.3" y1="318.9" x2="1776.3" y2="351.3" stroke="#000" stroke-width="2"/>
<line x1="1769.3" y1="240.4" x2="1783.3" y2="240.4" stroke="#000" stroke-width="2"/>
<line x1="1769.3" y1="351.3" x2="1783.3" y2="351.3" stroke="#000" stroke-width="2"/>
<rect x="1762.3" y="284.2" width="28.0" height="34.7" fill="#dcdcdc" stroke="#000" stroke-width="2"/>
<line x1="1762.3" y1="305.0" x2="1790.3" y2="305.0" stroke="#000" stroke-width="2"/>
<circle cx="1776.3" cy="194.6" r="2.1" fill="#000"/>
<circle cx="1776.3" cy="205.7" r="2.1" fill="#000"/>
<circle cx="1776.3" cy="224.5" r="2.1" fill="#000"/>
<line x1="1817.8" y1="225.6" x2="1817.8" y2="280.6" stroke="#000" stroke-width="2"/>
<line x1="1817.8" y1="315.8" x2="1817.8" y2="336.6" stroke="#000" stroke-width="2"/>
<line x1="1810.8" y1="225.6" x2="1824.8" y2="225.6" stroke="#000" stroke-width="2"/>
<line x1="1810.8" y1="336.6" x2="1824.8" y2="336.6" stroke="#000" stroke-width="2"/>
<rect x="1803.8" y="280.6" width="28.0" height="35.2" fill="#f03c3c" stroke="#000" stroke-width="2"/>
<line x1="1803.8" y1="298.0" x2="1831.8" y2="298.0" stroke="#000" stroke-width="2"/>
<circle cx="1817.8" cy="199.6" r="2.1" fill="#000"/>
<circle cx="1817.8" cy="217.6" r="2.1" fill="#000"/>
<text x="1797.3" y="103.0" font-size="23" text-anchor="middle" font-style="italic" >GAPDH</text>
<text x="1768.2" y="139.6" font-size="22.3" textLength="76.3" lengthAdjust="spacingAndGlyphs"><tspan font-style="italic" font-size="19.6">P</tspan> = 0,01</text>
<line x1="1777.0" y1="149.6" x2="1818.7" y2="149.6" stroke="#000" stroke-width="2"/>
<text x="1680.0" y="244.5" font-size="25" text-anchor="middle" textLength="59.7" lengthAdjust="spacingAndGlyphs" transform="rotate(-90 1680.0 244.5)" stroke="#000" stroke-width="0.5">FPKM</text>
<text x="1777.3" y="391.4" font-size="23.8" text-anchor="end"  transform="rotate(-45 1777.3 391.4)" >Low</text>
<text x="1823.8" y="391.4" font-size="23.8" text-anchor="end"  transform="rotate(-45 1823.8 391.4)" >High</text>
<line x1="1032.0" y1="605.1" x2="1032.0" y2="825.2" stroke="#000" stroke-width="2"/>
<line x1="1031.0" y1="824.2" x2="1130.9" y2="824.2" stroke="#000" stroke-width="2"/>
<line x1="1022.0" y1="642.9" x2="1032.0" y2="642.9" stroke="#000" stroke-width="2"/>
<text x="1018.8" y="652.2" font-size="25.7" text-anchor="end" textLength="27.6" lengthAdjust="spacingAndGlyphs" stroke="#000" stroke-width="0.25">20</text>
<line x1="1022.0" y1="715.0" x2="1032.0" y2="715.0" stroke="#000" stroke-width="2"/>
<text x="1018.8" y="724.3" font-size="25.7" text-anchor="end" textLength="27.6" lengthAdjust="spacingAndGlyphs" stroke="#000" stroke-width="0.25">10</text>
<line x1="1022.0" y1="787.1" x2="1032.0" y2="787.1" stroke="#000" stroke-width="2"/>
<text x="1018.8" y="796.4" font-size="25.7" text-anchor="end" textLength="13.8" lengthAdjust="spacingAndGlyphs" stroke="#000" stroke-width="0.25">0</text>
<line x1="1060.0" y1="824.2" x2="1060.0" y2="834.7" stroke="#000" stroke-width="2"/>
<line x1="1102.6" y1="824.2" x2="1102.6" y2="834.7" stroke="#000" stroke-width="2"/>
<line x1="1060.0" y1="756.9" x2="1060.0" y2="773.4" stroke="#000" stroke-width="2"/>
<line x1="1060.0" y1="785.4" x2="1060.0" y2="787.0" stroke="#000" stroke-width="2"/>
<line x1="1053.0" y1="756.9" x2="1067.0" y2="756.9" stroke="#000" stroke-width="2"/>
<line x1="1053.0" y1="787.0" x2="1067.0" y2="787.0" stroke="#000" stroke-width="2"/>
<rect x="1046.0" y="773.4" width="28.0" height="12.0" fill="#dcdcdc" stroke="#000" stroke-width="2"/>
<line x1="1046.0" y1="782.0" x2="1074.0" y2="782.0" stroke="#000" stroke-width="2"/>
<circle cx="1058.0" cy="732.2" r="2.1" fill="#000"/>
<circle cx="1062.0" cy="732.2" r="2.1" fill="#000"/>
<circle cx="1060.0" cy="737.4" r="2.1" fill="#000"/>
<circle cx="1060.0" cy="740.8" r="2.1" fill="#000"/>
<circle cx="1060.0" cy="754.5" r="2.1" fill="#000"/>
<line x1="1102.6" y1="722.6" x2="1102.6" y2="755.5" stroke="#000" stroke-width="2"/>
<line x1="1102.6" y1="781.0" x2="1102.6" y2="787.0" stroke="#000" stroke-width="2"/>
<line x1="1095.6" y1="722.6" x2="1109.6" y2="722.6" stroke="#000" stroke-width="2"/>
<line x1="1095.6" y1="787.0" x2="1109.6" y2="787.0" stroke="#000" stroke-width="2"/>
<rect x="1088.6" y="755.5" width="28.0" height="25.5" fill="#f03c3c" stroke="#000" stroke-width="2"/>
<line x1="1088.6" y1="771.0" x2="1116.6" y2="771.0" stroke="#000" stroke-width="2"/>
<circle cx="1102.6" cy="640.2" r="2.1" fill="#000"/>
<circle cx="1102.6" cy="674.5" r="2.1" fill="#000"/>
<circle cx="1100.6" cy="709.9" r="2.1" fill="#000"/>
<circle cx="1104.6" cy="709.9" r="2.1" fill="#000"/>
<circle cx="1102.6" cy="713.3" r="2.1" fill="#000"/>
<text x="1089.7" y="561.5" font-size="23" text-anchor="middle" font-style="italic" >TNFa</text>
<text x="1029.6" y="601.0" font-size="23.0" textLength="128.8" lengthAdjust="spacingAndGlyphs"><tspan font-style="italic" font-size="20.2">P</tspan> = 0,000014</text>
<line x1="1058.0" y1="623.0" x2="1103.4" y2="623.0" stroke="#000" stroke-width="2"/>
<text x="988.8" y="709.9" font-size="25" text-anchor="middle" textLength="63.3" lengthAdjust="spacingAndGlyphs" transform="rotate(-90 988.8 709.9)" stroke="#000" stroke-width="0.5">FPKM</text>
<text x="1061.0" y="858.2" font-size="23.8" text-anchor="end"  transform="rotate(-45 1061.0 858.2)" >Low</text>
<text x="1108.6" y="858.2" font-size="23.8" text-anchor="end"  transform="rotate(-45 1108.6 858.2)" >High</text>
<line x1="1212.2" y1="605.0" x2="1212.2" y2="827.5" stroke="#000" stroke-width="2"/>
<line x1="1211.2" y1="826.5" x2="1310.8" y2="826.5" stroke="#000" stroke-width="2"/>
<line x1="1202.2" y1="608.9" x2="1212.2" y2="608.9" stroke="#000" stroke-width="2"/>
<text x="1199.0" y="618.2" font-size="25.7" text-anchor="end" textLength="27.6" lengthAdjust="spacingAndGlyphs" stroke="#000" stroke-width="0.25">80</text>
<line x1="1202.2" y1="652.4" x2="1212.2" y2="652.4" stroke="#000" stroke-width="2"/>
<text x="1199.0" y="661.7" font-size="25.7" text-anchor="end" textLength="27.6" lengthAdjust="spacingAndGlyphs" stroke="#000" stroke-width="0.25">60</text>
<line x1="1202.2" y1="695.7" x2="1212.2" y2="695.7" stroke="#000" stroke-width="2"/>
<text x="1199.0" y="705.0" font-size="25.7" text-anchor="end" textLength="27.6" lengthAdjust="spacingAndGlyphs" stroke="#000" stroke-width="0.25">40</text>
<line x1="1202.2" y1="739.5" x2="1212.2" y2="739.5" stroke="#000" stroke-width="2"/>
<text x="1199.0" y="748.8" font-size="25.7" text-anchor="end" textLength="27.6" lengthAdjust="spacingAndGlyphs" stroke="#000" stroke-width="0.25">20</text>
<line x1="1202.2" y1="782.7" x2="1212.2" y2="782.7" stroke="#000" stroke-width="2"/>
<text x="1199.0" y="792.0" font-size="25.7" text-anchor="end" textLength="13.8" lengthAdjust="spacingAndGlyphs" stroke="#000" stroke-width="0.25">0</text>
<line x1="1202.2" y1="826.5" x2="1212.2" y2="826.5" stroke="#000" stroke-width="2"/>
<text x="1199.0" y="835.8" font-size="25.7" text-anchor="end" textLength="35.8" lengthAdjust="spacingAndGlyphs" stroke="#000" stroke-width="0.25">-20</text>
<line x1="1240.0" y1="826.5" x2="1240.0" y2="837.0" stroke="#000" stroke-width="2"/>
<line x1="1281.8" y1="826.5" x2="1281.8" y2="837.0" stroke="#000" stroke-width="2"/>
<line x1="1240.0" y1="770.0" x2="1240.0" y2="776.8" stroke="#000" stroke-width="2"/>
<line x1="1240.0" y1="781.9" x2="1240.0" y2="782.7" stroke="#000" stroke-width="2"/>
<line x1="1233.0" y1="770.0" x2="1247.0" y2="770.0" stroke="#000" stroke-width="2"/>
<line x1="1233.0" y1="782.7" x2="1247.0" y2="782.7" stroke="#000" stroke-width="2"/>
<rect x="1226.0" y="776.8" width="28.0" height="5.1" fill="#dcdcdc" stroke="#000" stroke-width="2"/>
<line x1="1226.0" y1="780.0" x2="1254.0" y2="780.0" stroke="#000" stroke-width="2"/>
<circle cx="1240.0" cy="742.2" r="2.1" fill="#000"/>
<circle cx="1240.0" cy="746.2" r="2.1" fill="#000"/>
<circle cx="1236.0" cy="753.0" r="2.1" fill="#000"/>
<circle cx="1244.0" cy="754.3" r="2.1" fill="#000"/>
<circle cx="1240.0" cy="758.4" r="2.1" fill="#000"/>
<circle cx="1240.0" cy="765.0" r="2.1" fill="#000"/>
<line x1="1281.8" y1="774.6" x2="1281.8" y2="778.6" stroke="#000" stroke-width="2"/>
<line x1="1281.8" y1="781.9" x2="1281.8" y2="782.7" stroke="#000" stroke-width="2"/>
<line x1="1274.8" y1="774.6" x2="1288.8" y2="774.6" stroke="#000" stroke-width="2"/>
<line x1="1274.8" y1="782.7" x2="1288.8" y2="782.7" stroke="#000" stroke-width="2"/>
<rect x="1267.8" y="778.6" width="28.0" height="3.3" fill="#f03c3c" stroke="#000" stroke-width="2"/>
<line x1="1267.8" y1="780.5" x2="1295.8" y2="780.5" stroke="#000" stroke-width="2"/>
<circle cx="1281.8" cy="618.4" r="2.1" fill="#000"/>
<circle cx="1281.8" cy="651.6" r="2.1" fill="#000"/>
<circle cx="1281.8" cy="719.2" r="2.1" fill="#000"/>
<circle cx="1281.8" cy="734.0" r="2.1" fill="#000"/>
<circle cx="1281.8" cy="739.5" r="2.1" fill="#000"/>
<circle cx="1281.8" cy="765.0" r="2.1" fill="#000"/>
<text x="1258.9" y="565.1" font-size="23" text-anchor="middle" font-style="italic" >IL6</text>
<text x="1236.8" y="592.0" font-size="24.2" textLength="77.5" lengthAdjust="spacingAndGlyphs"><tspan font-style="italic" font-size="21.3">P</tspan> = 0,79</text>
<line x1="1236.5" y1="600.8" x2="1277.3" y2="600.8" stroke="#000" stroke-width="2"/>
<text x="1168.0" y="711.1" font-size="25" text-anchor="middle" textLength="60.9" lengthAdjust="spacingAndGlyphs" transform="rotate(-90 1168.0 711.1)" stroke="#000" stroke-width="0.5">FPKM</text>
<text x="1241.0" y="860.5" font-size="23.8" text-anchor="end"  transform="rotate(-45 1241.0 860.5)" >Low</text>
<text x="1287.8" y="860.5" font-size="23.8" text-anchor="end"  transform="rotate(-45 1287.8 860.5)" >High</text>
<line x1="1391.6" y1="599.7" x2="1391.6" y2="818.8" stroke="#000" stroke-width="2"/>
<line x1="1390.6" y1="817.8" x2="1491.0" y2="817.8" stroke="#000" stroke-width="2"/>
<line x1="1381.6" y1="599.7" x2="1391.6" y2="599.7" stroke="#000" stroke-width="2"/>
<text x="1378.4" y="609.0" font-size="25.7" text-anchor="end" textLength="41.4" lengthAdjust="spacingAndGlyphs" stroke="#000" stroke-width="0.25">100</text>
<line x1="1381.6" y1="643.5" x2="1391.6" y2="643.5" stroke="#000" stroke-width="2"/>
<text x="1378.4" y="652.8" font-size="25.7" text-anchor="end" textLength="27.6" lengthAdjust="spacingAndGlyphs" stroke="#000" stroke-width="0.25">80</text>
<line x1="1381.6" y1="686.8" x2="1391.6" y2="686.8" stroke="#000" stroke-width="2"/>
<text x="1378.4" y="696.1" font-size="25.7" text-anchor="end" textLength="27.6" lengthAdjust="spacingAndGlyphs" stroke="#000" stroke-width="0.25">60</text>
<line x1="1381.6" y1="730.5" x2="1391.6" y2="730.5" stroke="#000" stroke-width="2"/>
<text x="1378.4" y="739.8" font-size="25.7" text-anchor="end" textLength="27.6" lengthAdjust="spacingAndGlyphs" stroke="#000" stroke-width="0.25">40</text>
<line x1="1381.6" y1="773.8" x2="1391.6" y2="773.8" stroke="#000" stroke-width="2"/>
<text x="1378.4" y="783.1" font-size="25.7" text-anchor="end" textLength="27.6" lengthAdjust="spacingAndGlyphs" stroke="#000" stroke-width="0.25">20</text>
<line x1="1381.6" y1="817.8" x2="1391.6" y2="817.8" stroke="#000" stroke-width="2"/>
<text x="1378.4" y="827.1" font-size="25.7" text-anchor="end" textLength="13.8" lengthAdjust="spacingAndGlyphs" stroke="#000" stroke-width="0.25">0</text>
<line x1="1420.2" y1="817.8" x2="1420.2" y2="828.3" stroke="#000" stroke-width="2"/>
<line x1="1462.3" y1="817.8" x2="1462.3" y2="828.3" stroke="#000" stroke-width="2"/>
<line x1="1420.2" y1="740.3" x2="1420.2" y2="768.6" stroke="#000" stroke-width="2"/>
<line x1="1420.2" y1="794.9" x2="1420.2" y2="804.9" stroke="#000" stroke-width="2"/>
<line x1="1413.2" y1="740.3" x2="1427.2" y2="740.3" stroke="#000" stroke-width="2"/>
<line x1="1413.2" y1="804.9" x2="1427.2" y2="804.9" stroke="#000" stroke-width="2"/>
<rect x="1406.2" y="768.6" width="28.0" height="26.3" fill="#dcdcdc" stroke="#000" stroke-width="2"/>
<line x1="1406.2" y1="785.4" x2="1434.2" y2="785.4" stroke="#000" stroke-width="2"/>
<circle cx="1418.2" cy="679.2" r="2.1" fill="#000"/>
<circle cx="1422.2" cy="679.2" r="2.1" fill="#000"/>
<circle cx="1420.2" cy="713.8" r="2.1" fill="#000"/>
<circle cx="1420.2" cy="726.8" r="2.1" fill="#000"/>
<line x1="1462.3" y1="713.8" x2="1462.3" y2="750.8" stroke="#000" stroke-width="2"/>
<line x1="1462.3" y1="782.2" x2="1462.3" y2="799.5" stroke="#000" stroke-width="2"/>
<line x1="1455.3" y1="713.8" x2="1469.3" y2="713.8" stroke="#000" stroke-width="2"/>
<line x1="1455.3" y1="799.5" x2="1469.3" y2="799.5" stroke="#000" stroke-width="2"/>
<rect x="1448.3" y="750.8" width="28.0" height="31.4" fill="#f03c3c" stroke="#000" stroke-width="2"/>
<line x1="1448.3" y1="771.4" x2="1476.3" y2="771.4" stroke="#000" stroke-width="2"/>
<circle cx="1462.3" cy="627.3" r="2.1" fill="#000"/>
<circle cx="1462.3" cy="639.5" r="2.1" fill="#000"/>
<text x="1441.0" y="566.5" font-size="23" text-anchor="middle" font-style="italic" >NFKB2</text>
<text x="1387.0" y="591.6" font-size="23.7" textLength="128.0" lengthAdjust="spacingAndGlyphs"><tspan font-style="italic" font-size="20.9">P</tspan> = 0,000011</text>
<line x1="1414.0" y1="617.0" x2="1460.0" y2="617.0" stroke="#000" stroke-width="2"/>
<text x="1342.0" y="702.3" font-size="25" text-anchor="middle" textLength="62.3" lengthAdjust="spacingAndGlyphs" transform="rotate(-90 1342.0 702.3)" stroke="#000" stroke-width="0.5">FPKM</text>
<text x="1421.2" y="851.8" font-size="23.8" text-anchor="end"  transform="rotate(-45 1421.2 851.8)" >Low</text>
<text x="1468.3" y="851.8" font-size="23.8" text-anchor="end"  transform="rotate(-45 1468.3 851.8)" >High</text>
<line x1="1563.8" y1="599.7" x2="1563.8" y2="818.8" stroke="#000" stroke-width="2"/>
<line x1="1562.8" y1="817.8" x2="1663.8" y2="817.8" stroke="#000" stroke-width="2"/>
<line x1="1553.8" y1="599.7" x2="1563.8" y2="599.7" stroke="#000" stroke-width="2"/>
<text x="1550.6" y="609.0" font-size="25.7" text-anchor="end" textLength="27.6" lengthAdjust="spacingAndGlyphs" stroke="#000" stroke-width="0.25">80</text>
<line x1="1553.8" y1="648.4" x2="1563.8" y2="648.4" stroke="#000" stroke-width="2"/>
<text x="1550.6" y="657.7" font-size="25.7" text-anchor="end" textLength="27.6" lengthAdjust="spacingAndGlyphs" stroke="#000" stroke-width="0.25">60</text>
<line x1="1553.8" y1="696.8" x2="1563.8" y2="696.8" stroke="#000" stroke-width="2"/>
<text x="1550.6" y="706.1" font-size="25.7" text-anchor="end" textLength="27.6" lengthAdjust="spacingAndGlyphs" stroke="#000" stroke-width="0.25">40</text>
<line x1="1553.8" y1="744.9" x2="1563.8" y2="744.9" stroke="#000" stroke-width="2"/>
<text x="1550.6" y="754.2" font-size="25.7" text-anchor="end" textLength="27.6" lengthAdjust="spacingAndGlyphs" stroke="#000" stroke-width="0.25">20</text>
<line x1="1553.8" y1="793.5" x2="1563.8" y2="793.5" stroke="#000" stroke-width="2"/>
<text x="1550.6" y="802.8" font-size="25.7" text-anchor="end" textLength="13.8" lengthAdjust="spacingAndGlyphs" stroke="#000" stroke-width="0.25">0</text>
<line x1="1592.0" y1="817.8" x2="1592.0" y2="828.3" stroke="#000" stroke-width="2"/>
<line x1="1633.9" y1="817.8" x2="1633.9" y2="828.3" stroke="#000" stroke-width="2"/>
<line x1="1592.0" y1="777.3" x2="1592.0" y2="784.0" stroke="#000" stroke-width="2"/>
<line x1="1592.0" y1="790.8" x2="1592.0" y2="793.5" stroke="#000" stroke-width="2"/>
<line x1="1585.0" y1="777.3" x2="1599.0" y2="777.3" stroke="#000" stroke-width="2"/>
<line x1="1585.0" y1="793.5" x2="1599.0" y2="793.5" stroke="#000" stroke-width="2"/>
<rect x="1578.0" y="784.0" width="28.0" height="6.8" fill="#dcdcdc" stroke="#000" stroke-width="2"/>
<line x1="1578.0" y1="788.6" x2="1606.0" y2="788.6" stroke="#000" stroke-width="2"/>
<circle cx="1592.0" cy="648.9" r="2.1" fill="#000"/>
<circle cx="1592.0" cy="655.7" r="2.1" fill="#000"/>
<circle cx="1592.0" cy="677.3" r="2.1" fill="#000"/>
<circle cx="1590.0" cy="754.3" r="2.1" fill="#000"/>
<circle cx="1594.0" cy="761.0" r="2.1" fill="#000"/>
<line x1="1633.9" y1="772.7" x2="1633.9" y2="781.4" stroke="#000" stroke-width="2"/>
<line x1="1633.9" y1="788.9" x2="1633.9" y2="792.2" stroke="#000" stroke-width="2"/>
<line x1="1626.9" y1="772.7" x2="1640.9" y2="772.7" stroke="#000" stroke-width="2"/>
<line x1="1626.9" y1="792.2" x2="1640.9" y2="792.2" stroke="#000" stroke-width="2"/>
<rect x="1619.9" y="781.4" width="28.0" height="7.5" fill="#f03c3c" stroke="#000" stroke-width="2"/>
<line x1="1619.9" y1="786.8" x2="1647.9" y2="786.8" stroke="#000" stroke-width="2"/>
<circle cx="1633.9" cy="727.3" r="2.1" fill="#000"/>
<circle cx="1633.9" cy="741.4" r="2.1" fill="#000"/>
<circle cx="1633.9" cy="760.3" r="2.1" fill="#000"/>
<text x="1613.8" y="566.5" font-size="23" text-anchor="middle" font-style="italic" >IL23</text>
<text x="1571.0" y="619.2" font-size="23.7" textLength="102.2" lengthAdjust="spacingAndGlyphs"><tspan font-style="italic" font-size="20.9">P</tspan> = 0,0045</text>
<line x1="1591.4" y1="633.2" x2="1628.6" y2="633.2" stroke="#000" stroke-width="2"/>
<text x="1510.6" y="703.0" font-size="25" text-anchor="middle" textLength="61.0" lengthAdjust="spacingAndGlyphs" transform="rotate(-90 1510.6 703.0)" stroke="#000" stroke-width="0.5">FPKM</text>
<text x="1593.0" y="851.8" font-size="23.8" text-anchor="end"  transform="rotate(-45 1593.0 851.8)" >Low</text>
<text x="1639.9" y="851.8" font-size="23.8" text-anchor="end"  transform="rotate(-45 1639.9 851.8)" >High</text>
<line x1="1754.1" y1="601.7" x2="1754.1" y2="820.3" stroke="#000" stroke-width="2"/>
<line x1="1753.1" y1="819.3" x2="1853.3" y2="819.3" stroke="#000" stroke-width="2"/>
<line x1="1744.1" y1="601.7" x2="1754.1" y2="601.7" stroke="#000" stroke-width="2"/>
<text x="1740.9" y="611.0" font-size="25.7" text-anchor="end" textLength="55.2" lengthAdjust="spacingAndGlyphs" stroke="#000" stroke-width="0.25">4000</text>
<line x1="1744.1" y1="656.3" x2="1754.1" y2="656.3" stroke="#000" stroke-width="2"/>
<text x="1740.9" y="665.6" font-size="25.7" text-anchor="end" textLength="55.2" lengthAdjust="spacingAndGlyphs" stroke="#000" stroke-width="0.25">3000</text>
<line x1="1744.1" y1="710.6" x2="1754.1" y2="710.6" stroke="#000" stroke-width="2"/>
<text x="1740.9" y="719.9" font-size="25.7" text-anchor="end" textLength="55.2" lengthAdjust="spacingAndGlyphs" stroke="#000" stroke-width="0.25">2000</text>
<line x1="1744.1" y1="764.7" x2="1754.1" y2="764.7" stroke="#000" stroke-width="2"/>
<text x="1740.9" y="774.0" font-size="25.7" text-anchor="end" textLength="55.2" lengthAdjust="spacingAndGlyphs" stroke="#000" stroke-width="0.25">1000</text>
<line x1="1744.1" y1="819.3" x2="1754.1" y2="819.3" stroke="#000" stroke-width="2"/>
<text x="1740.9" y="828.6" font-size="25.7" text-anchor="end" textLength="13.8" lengthAdjust="spacingAndGlyphs" stroke="#000" stroke-width="0.25">0</text>
<line x1="1782.1" y1="819.3" x2="1782.1" y2="829.8" stroke="#000" stroke-width="2"/>
<line x1="1824.5" y1="819.3" x2="1824.5" y2="829.8" stroke="#000" stroke-width="2"/>
<line x1="1782.1" y1="691.7" x2="1782.1" y2="738.8" stroke="#000" stroke-width="2"/>
<line x1="1782.1" y1="773.9" x2="1782.1" y2="797.7" stroke="#000" stroke-width="2"/>
<line x1="1775.1" y1="691.7" x2="1789.1" y2="691.7" stroke="#000" stroke-width="2"/>
<line x1="1775.1" y1="797.7" x2="1789.1" y2="797.7" stroke="#000" stroke-width="2"/>
<rect x="1768.1" y="738.8" width="28.0" height="35.1" fill="#dcdcdc" stroke="#000" stroke-width="2"/>
<line x1="1768.1" y1="760.7" x2="1796.1" y2="760.7" stroke="#000" stroke-width="2"/>
<circle cx="1782.1" cy="654.4" r="2.1" fill="#000"/>
<circle cx="1782.1" cy="660.3" r="2.1" fill="#000"/>
<line x1="1824.5" y1="714.7" x2="1824.5" y2="754.4" stroke="#000" stroke-width="2"/>
<line x1="1824.5" y1="781.0" x2="1824.5" y2="802.6" stroke="#000" stroke-width="2"/>
<line x1="1817.5" y1="714.7" x2="1831.5" y2="714.7" stroke="#000" stroke-width="2"/>
<line x1="1817.5" y1="802.6" x2="1831.5" y2="802.6" stroke="#000" stroke-width="2"/>
<rect x="1810.5" y="754.4" width="28.0" height="26.6" fill="#f03c3c" stroke="#000" stroke-width="2"/>
<line x1="1810.5" y1="769.9" x2="1838.5" y2="769.9" stroke="#000" stroke-width="2"/>
<circle cx="1824.5" cy="688.7" r="2.1" fill="#000"/>
<circle cx="1822.5" cy="699.0" r="2.1" fill="#000"/>
<circle cx="1826.5" cy="703.0" r="2.1" fill="#000"/>
<circle cx="1824.5" cy="707.0" r="2.1" fill="#000"/>
<text x="1803.3" y="569.2" font-size="23" text-anchor="middle" font-style="italic" >GAPDH</text>
<text x="1770.9" y="602.5" font-size="24.5" textLength="90.6" lengthAdjust="spacingAndGlyphs"><tspan font-style="italic" font-size="21.6">P</tspan> = 0,023</text>
<line x1="1778.2" y1="612.5" x2="1818.7" y2="612.5" stroke="#000" stroke-width="2"/>
<text x="1682.5" y="705.1" font-size="25" text-anchor="middle" textLength="59.7" lengthAdjust="spacingAndGlyphs" transform="rotate(-90 1682.5 705.1)" stroke="#000" stroke-width="0.5">FPKM</text>
<text x="1783.1" y="853.3" font-size="23.8" text-anchor="end"  transform="rotate(-45 1783.1 853.3)" >Low</text>
<text x="1830.5" y="853.3" font-size="23.8" text-anchor="end"  transform="rotate(-45 1830.5 853.3)" >High</text>
<line x1="1020.5" y1="1086.7" x2="1020.5" y2="1301.8" stroke="#000" stroke-width="2"/>
<line x1="1019.5" y1="1300.8" x2="1118.1" y2="1300.8" stroke="#000" stroke-width="2"/>
<line x1="1010.5" y1="1086.7" x2="1020.5" y2="1086.7" stroke="#000" stroke-width="2"/>
<text x="1007.3" y="1096.0" font-size="25.7" text-anchor="end" textLength="27.6" lengthAdjust="spacingAndGlyphs" stroke="#000" stroke-width="0.25">10</text>
<line x1="1010.5" y1="1140.5" x2="1020.5" y2="1140.5" stroke="#000" stroke-width="2"/>
<text x="1007.3" y="1149.8" font-size="25.7" text-anchor="end" textLength="13.8" lengthAdjust="spacingAndGlyphs" stroke="#000" stroke-width="0.25">5</text>
<line x1="1010.5" y1="1193.6" x2="1020.5" y2="1193.6" stroke="#000" stroke-width="2"/>
<text x="1007.3" y="1202.9" font-size="25.7" text-anchor="end" textLength="13.8" lengthAdjust="spacingAndGlyphs" stroke="#000" stroke-width="0.25">0</text>
<line x1="1010.5" y1="1247.7" x2="1020.5" y2="1247.7" stroke="#000" stroke-width="2"/>
<text x="1007.3" y="1257.0" font-size="25.7" text-anchor="end" textLength="22.0" lengthAdjust="spacingAndGlyphs" stroke="#000" stroke-width="0.25">-5</text>
<line x1="1010.5" y1="1300.8" x2="1020.5" y2="1300.8" stroke="#000" stroke-width="2"/>
<text x="1007.3" y="1310.1" font-size="25.7" text-anchor="end" textLength="35.8" lengthAdjust="spacingAndGlyphs" stroke="#000" stroke-width="0.25">-10</text>
<line x1="1048.2" y1="1300.8" x2="1048.2" y2="1311.3" stroke="#000" stroke-width="2"/>
<line x1="1089.7" y1="1300.8" x2="1089.7" y2="1311.3" stroke="#000" stroke-width="2"/>
<line x1="1048.2" y1="1187.8" x2="1048.2" y2="1201.5" stroke="#000" stroke-width="2"/>
<line x1="1048.2" y1="1220.3" x2="1048.2" y2="1267.3" stroke="#000" stroke-width="2"/>
<line x1="1041.2" y1="1187.8" x2="1055.2" y2="1187.8" stroke="#000" stroke-width="2"/>
<line x1="1041.2" y1="1267.3" x2="1055.2" y2="1267.3" stroke="#000" stroke-width="2"/>
<rect x="1034.2" y="1201.5" width="28.0" height="18.8" fill="#dcdcdc" stroke="#000" stroke-width="2"/>
<line x1="1034.2" y1="1210.7" x2="1062.2" y2="1210.7" stroke="#000" stroke-width="2"/>
<circle cx="1048.2" cy="1157.0" r="2.1" fill="#000"/>
<circle cx="1046.2" cy="1161.0" r="2.1" fill="#000"/>
<circle cx="1050.2" cy="1163.0" r="2.1" fill="#000"/>
<circle cx="1046.2" cy="1166.0" r="2.1" fill="#000"/>
<circle cx="1050.2" cy="1168.0" r="2.1" fill="#000"/>
<circle cx="1045.2" cy="1171.0" r="2.1" fill="#000"/>
<circle cx="1050.2" cy="1173.0" r="2.1" fill="#000"/>
<circle cx="1045.2" cy="1176.0" r="2.1" fill="#000"/>
<circle cx="1051.2" cy="1177.0" r="2.1" fill="#000"/>
<circle cx="1044.2" cy="1180.0" r="2.1" fill="#000"/>
<circle cx="1052.2" cy="1181.0" r="2.1" fill="#000"/>
<circle cx="1043.2" cy="1184.0" r="2.1" fill="#000"/>
<circle cx="1053.2" cy="1185.0" r="2.1" fill="#000"/>
<circle cx="1048.2" cy="1183.0" r="2.1" fill="#000"/>
<line x1="1089.7" y1="1165.5" x2="1089.7" y2="1178.5" stroke="#000" stroke-width="2"/>
<line x1="1089.7" y1="1198.0" x2="1089.7" y2="1231.6" stroke="#000" stroke-width="2"/>
<line x1="1082.7" y1="1165.5" x2="1096.7" y2="1165.5" stroke="#000" stroke-width="2"/>
<line x1="1082.7" y1="1231.6" x2="1096.7" y2="1231.6" stroke="#000" stroke-width="2"/>
<rect x="1075.7" y="1178.5" width="28.0" height="19.5" fill="#f03c3c" stroke="#000" stroke-width="2"/>
<line x1="1075.7" y1="1188.8" x2="1103.7" y2="1188.8" stroke="#000" stroke-width="2"/>
<circle cx="1089.7" cy="1122.7" r="2.1" fill="#000"/>
<circle cx="1089.7" cy="1141.5" r="2.1" fill="#000"/>
<circle cx="1089.7" cy="1146.7" r="2.1" fill="#000"/>
<circle cx="1089.7" cy="1151.0" r="2.1" fill="#000"/>
<circle cx="1089.7" cy="1155.2" r="2.1" fill="#000"/>
<circle cx="1086.7" cy="1158.0" r="2.1" fill="#000"/>
<circle cx="1092.7" cy="1160.0" r="2.1" fill="#000"/>
<circle cx="1077.7" cy="1165.0" r="2.1" fill="#000"/>
<circle cx="1081.7" cy="1165.0" r="2.1" fill="#000"/>
<circle cx="1085.7" cy="1164.0" r="2.1" fill="#000"/>
<circle cx="1093.7" cy="1164.0" r="2.1" fill="#000"/>
<circle cx="1097.7" cy="1165.0" r="2.1" fill="#000"/>
<circle cx="1101.7" cy="1165.0" r="2.1" fill="#000"/>
<text x="1070.2" y="1041.1" font-size="23" text-anchor="middle" font-style="italic" >TNFa</text>
<text x="1014.7" y="1072.5" font-size="20.8" textLength="110.3" lengthAdjust="spacingAndGlyphs"><tspan font-style="italic" font-size="18.3">P</tspan> <0,000001</text>
<line x1="1046.9" y1="1093.6" x2="1090.7" y2="1093.6" stroke="#000" stroke-width="2"/>
<text x="973.0" y="1184.3" font-size="25" text-anchor="middle" textLength="66.6" lengthAdjust="spacingAndGlyphs" transform="rotate(-90 973.0 1184.3)" stroke="#000" stroke-width="0.5">FPKM</text>
<text x="1049.2" y="1334.8" font-size="23.8" text-anchor="end"  transform="rotate(-45 1049.2 1334.8)" >Low</text>
<text x="1095.7" y="1334.8" font-size="23.8" text-anchor="end"  transform="rotate(-45 1095.7 1334.8)" >High</text>
<line x1="1191.4" y1="1087.6" x2="1191.4" y2="1303.4" stroke="#000" stroke-width="2"/>
<line x1="1190.4" y1="1302.4" x2="1290.0" y2="1302.4" stroke="#000" stroke-width="2"/>
<line x1="1181.4" y1="1087.6" x2="1191.4" y2="1087.6" stroke="#000" stroke-width="2"/>
<text x="1178.2" y="1096.9" font-size="25.7" text-anchor="end" textLength="41.4" lengthAdjust="spacingAndGlyphs" stroke="#000" stroke-width="0.25">150</text>
<line x1="1181.4" y1="1150.9" x2="1191.4" y2="1150.9" stroke="#000" stroke-width="2"/>
<text x="1178.2" y="1160.2" font-size="25.7" text-anchor="end" textLength="41.4" lengthAdjust="spacingAndGlyphs" stroke="#000" stroke-width="0.25">100</text>
<line x1="1181.4" y1="1214.3" x2="1191.4" y2="1214.3" stroke="#000" stroke-width="2"/>
<text x="1178.2" y="1223.6" font-size="25.7" text-anchor="end" textLength="27.6" lengthAdjust="spacingAndGlyphs" stroke="#000" stroke-width="0.25">50</text>
<line x1="1181.4" y1="1277.1" x2="1191.4" y2="1277.1" stroke="#000" stroke-width="2"/>
<text x="1178.2" y="1286.4" font-size="25.7" text-anchor="end" textLength="13.8" lengthAdjust="spacingAndGlyphs" stroke="#000" stroke-width="0.25">0</text>
<line x1="1219.7" y1="1302.4" x2="1219.7" y2="1312.9" stroke="#000" stroke-width="2"/>
<line x1="1261.0" y1="1302.4" x2="1261.0" y2="1312.9" stroke="#000" stroke-width="2"/>
<line x1="1219.7" y1="1253.4" x2="1219.7" y2="1267.7" stroke="#000" stroke-width="2"/>
<line x1="1219.7" y1="1275.5" x2="1219.7" y2="1277.1" stroke="#000" stroke-width="2"/>
<line x1="1212.7" y1="1253.4" x2="1226.7" y2="1253.4" stroke="#000" stroke-width="2"/>
<line x1="1212.7" y1="1277.1" x2="1226.7" y2="1277.1" stroke="#000" stroke-width="2"/>
<rect x="1206.2" y="1267.7" width="27.0" height="7.8" fill="#dcdcdc" stroke="#000" stroke-width="2"/>
<line x1="1206.2" y1="1272.8" x2="1233.2" y2="1272.8" stroke="#000" stroke-width="2"/>
<circle cx="1219.7" cy="1156.3" r="2.1" fill="#000"/>
<circle cx="1219.7" cy="1164.4" r="2.1" fill="#000"/>
<circle cx="1217.7" cy="1190.0" r="2.1" fill="#000"/>
<circle cx="1221.7" cy="1190.0" r="2.1" fill="#000"/>
<circle cx="1219.7" cy="1223.7" r="2.1" fill="#000"/>
<circle cx="1216.7" cy="1231.8" r="2.1" fill="#000"/>
<circle cx="1222.7" cy="1231.8" r="2.1" fill="#000"/>
<circle cx="1214.7" cy="1237.2" r="2.1" fill="#000"/>
<circle cx="1224.7" cy="1240.0" r="2.1" fill="#000"/>
<circle cx="1219.7" cy="1244.0" r="2.1" fill="#000"/>
<circle cx="1215.7" cy="1248.0" r="2.1" fill="#000"/>
<circle cx="1223.7" cy="1248.0" r="2.1" fill="#000"/>
<line x1="1261.0" y1="1257.4" x2="1261.0" y2="1267.7" stroke="#000" stroke-width="2"/>
<line x1="1261.0" y1="1275.0" x2="1261.0" y2="1277.1" stroke="#000" stroke-width="2"/>
<line x1="1254.0" y1="1257.4" x2="1268.0" y2="1257.4" stroke="#000" stroke-width="2"/>
<line x1="1254.0" y1="1277.1" x2="1268.0" y2="1277.1" stroke="#000" stroke-width="2"/>
<rect x="1247.0" y="1267.7" width="28.0" height="7.3" fill="#f03c3c" stroke="#000" stroke-width="2"/>
<line x1="1247.0" y1="1270.9" x2="1275.0" y2="1270.9" stroke="#000" stroke-width="2"/>
<circle cx="1261.0" cy="1196.8" r="2.1" fill="#000"/>
<circle cx="1261.0" cy="1203.5" r="2.1" fill="#000"/>
<circle cx="1261.0" cy="1219.7" r="2.1" fill="#000"/>
<circle cx="1261.0" cy="1231.8" r="2.1" fill="#000"/>
<circle cx="1257.0" cy="1238.5" r="2.1" fill="#000"/>
<circle cx="1265.0" cy="1240.0" r="2.1" fill="#000"/>
<circle cx="1256.0" cy="1246.6" r="2.1" fill="#000"/>
<circle cx="1266.0" cy="1246.6" r="2.1" fill="#000"/>
<circle cx="1261.0" cy="1252.0" r="2.1" fill="#000"/>
<circle cx="1258.0" cy="1250.0" r="2.1" fill="#000"/>
<circle cx="1264.0" cy="1250.0" r="2.1" fill="#000"/>
<text x="1241.3" y="1041.8" font-size="23" text-anchor="middle" font-style="italic" >IL6</text>
<text x="1210.3" y="1089.0" font-size="18.4" textLength="79.7" lengthAdjust="spacingAndGlyphs"><tspan font-style="italic" font-size="16.2">P</tspan> = 0,040</text>
<line x1="1219.2" y1="1096.5" x2="1262.3" y2="1096.5" stroke="#000" stroke-width="2"/>
<text x="1137.9" y="1189.7" font-size="25" text-anchor="middle" textLength="60.0" lengthAdjust="spacingAndGlyphs" transform="rotate(-90 1137.9 1189.7)" stroke="#000" stroke-width="0.5">FPKM</text>
<text x="1220.7" y="1336.4" font-size="23.8" text-anchor="end"  transform="rotate(-45 1220.7 1336.4)" >Low</text>
<text x="1267.0" y="1336.4" font-size="23.8" text-anchor="end"  transform="rotate(-45 1267.0 1336.4)" >High</text>
<line x1="1376.8" y1="1087.6" x2="1376.8" y2="1303.4" stroke="#000" stroke-width="2"/>
<line x1="1375.8" y1="1302.4" x2="1474.6" y2="1302.4" stroke="#000" stroke-width="2"/>
<line x1="1366.8" y1="1087.6" x2="1376.8" y2="1087.6" stroke="#000" stroke-width="2"/>
<text x="1363.6" y="1096.9" font-size="25.7" text-anchor="end" textLength="41.4" lengthAdjust="spacingAndGlyphs" stroke="#000" stroke-width="0.25">100</text>
<line x1="1366.8" y1="1130.7" x2="1376.8" y2="1130.7" stroke="#000" stroke-width="2"/>
<text x="1363.6" y="1140.0" font-size="25.7" text-anchor="end" textLength="27.6" lengthAdjust="spacingAndGlyphs" stroke="#000" stroke-width="0.25">80</text>
<line x1="1366.8" y1="1173.3" x2="1376.8" y2="1173.3" stroke="#000" stroke-width="2"/>
<text x="1363.6" y="1182.6" font-size="25.7" text-anchor="end" textLength="27.6" lengthAdjust="spacingAndGlyphs" stroke="#000" stroke-width="0.25">60</text>
<line x1="1366.8" y1="1216.4" x2="1376.8" y2="1216.4" stroke="#000" stroke-width="2"/>
<text x="1363.6" y="1225.7" font-size="25.7" text-anchor="end" textLength="27.6" lengthAdjust="spacingAndGlyphs" stroke="#000" stroke-width="0.25">40</text>
<line x1="1366.8" y1="1259.6" x2="1376.8" y2="1259.6" stroke="#000" stroke-width="2"/>
<text x="1363.6" y="1268.9" font-size="25.7" text-anchor="end" textLength="27.6" lengthAdjust="spacingAndGlyphs" stroke="#000" stroke-width="0.25">20</text>
<line x1="1366.8" y1="1302.4" x2="1376.8" y2="1302.4" stroke="#000" stroke-width="2"/>
<text x="1363.6" y="1311.7" font-size="25.7" text-anchor="end" textLength="13.8" lengthAdjust="spacingAndGlyphs" stroke="#000" stroke-width="0.25">0</text>
<line x1="1404.2" y1="1302.4" x2="1404.2" y2="1312.9" stroke="#000" stroke-width="2"/>
<line x1="1446.1" y1="1302.4" x2="1446.1" y2="1312.9" stroke="#000" stroke-width="2"/>
<line x1="1404.2" y1="1249.3" x2="1404.2" y2="1272.8" stroke="#000" stroke-width="2"/>
<line x1="1404.2" y1="1286.5" x2="1404.2" y2="1297.8" stroke="#000" stroke-width="2"/>
<line x1="1397.2" y1="1249.3" x2="1411.2" y2="1249.3" stroke="#000" stroke-width="2"/>
<line x1="1397.2" y1="1297.8" x2="1411.2" y2="1297.8" stroke="#000" stroke-width="2"/>
<rect x="1390.2" y="1272.8" width="28.0" height="13.7" fill="#dcdcdc" stroke="#000" stroke-width="2"/>
<line x1="1390.2" y1="1280.3" x2="1418.2" y2="1280.3" stroke="#000" stroke-width="2"/>
<circle cx="1402.2" cy="1215.6" r="2.1" fill="#000"/>
<circle cx="1406.2" cy="1219.7" r="2.1" fill="#000"/>
<circle cx="1402.2" cy="1222.4" r="2.1" fill="#000"/>
<circle cx="1404.2" cy="1230.5" r="2.1" fill="#000"/>
<circle cx="1404.2" cy="1245.3" r="2.1" fill="#000"/>
<line x1="1446.1" y1="1211.0" x2="1446.1" y2="1248.8" stroke="#000" stroke-width="2"/>
<line x1="1446.1" y1="1271.7" x2="1446.1" y2="1289.2" stroke="#000" stroke-width="2"/>
<line x1="1439.1" y1="1211.0" x2="1453.1" y2="1211.0" stroke="#000" stroke-width="2"/>
<line x1="1439.1" y1="1289.2" x2="1453.1" y2="1289.2" stroke="#000" stroke-width="2"/>
<rect x="1432.1" y="1248.8" width="28.0" height="22.9" fill="#f03c3c" stroke="#000" stroke-width="2"/>
<line x1="1432.1" y1="1262.8" x2="1460.1" y2="1262.8" stroke="#000" stroke-width="2"/>
<circle cx="1444.1" cy="1115.9" r="2.1" fill="#000"/>
<circle cx="1446.1" cy="1124.0" r="2.1" fill="#000"/>
<circle cx="1446.1" cy="1132.0" r="2.1" fill="#000"/>
<circle cx="1443.1" cy="1160.4" r="2.1" fill="#000"/>
<circle cx="1449.1" cy="1160.4" r="2.1" fill="#000"/>
<circle cx="1444.1" cy="1165.8" r="2.1" fill="#000"/>
<circle cx="1446.1" cy="1175.2" r="2.1" fill="#000"/>
<circle cx="1446.1" cy="1202.2" r="2.1" fill="#000"/>
<text x="1426.1" y="1041.8" font-size="23" text-anchor="middle" font-style="italic" >NFKB2</text>
<text x="1368.7" y="1076.4" font-size="20.6" textLength="110.0" lengthAdjust="spacingAndGlyphs"><tspan font-style="italic" font-size="18.1">P</tspan> <0,000001</text>
<line x1="1398.4" y1="1091.6" x2="1443.6" y2="1091.6" stroke="#000" stroke-width="2"/>
<text x="1321.9" y="1189.7" font-size="25" text-anchor="middle" textLength="60.0" lengthAdjust="spacingAndGlyphs" transform="rotate(-90 1321.9 1189.7)" stroke="#000" stroke-width="0.5">FPKM</text>
<text x="1405.2" y="1336.4" font-size="23.8" text-anchor="end"  transform="rotate(-45 1405.2 1336.4)" >Low</text>
<text x="1452.1" y="1336.4" font-size="23.8" text-anchor="end"  transform="rotate(-45 1452.1 1336.4)" >High</text>
<line x1="1549.0" y1="1086.8" x2="1549.0" y2="1302.3" stroke="#000" stroke-width="2"/>
<line x1="1548.0" y1="1301.3" x2="1646.5" y2="1301.3" stroke="#000" stroke-width="2"/>
<line x1="1539.0" y1="1086.8" x2="1549.0" y2="1086.8" stroke="#000" stroke-width="2"/>
<text x="1535.8" y="1096.1" font-size="25.7" text-anchor="end" textLength="27.6" lengthAdjust="spacingAndGlyphs" stroke="#000" stroke-width="0.25">80</text>
<line x1="1539.0" y1="1129.9" x2="1549.0" y2="1129.9" stroke="#000" stroke-width="2"/>
<text x="1535.8" y="1139.2" font-size="25.7" text-anchor="end" textLength="27.6" lengthAdjust="spacingAndGlyphs" stroke="#000" stroke-width="0.25">60</text>
<line x1="1539.0" y1="1172.5" x2="1549.0" y2="1172.5" stroke="#000" stroke-width="2"/>
<text x="1535.8" y="1181.8" font-size="25.7" text-anchor="end" textLength="27.6" lengthAdjust="spacingAndGlyphs" stroke="#000" stroke-width="0.25">40</text>
<line x1="1539.0" y1="1215.6" x2="1549.0" y2="1215.6" stroke="#000" stroke-width="2"/>
<text x="1535.8" y="1224.9" font-size="25.7" text-anchor="end" textLength="27.6" lengthAdjust="spacingAndGlyphs" stroke="#000" stroke-width="0.25">20</text>
<line x1="1539.0" y1="1258.2" x2="1549.0" y2="1258.2" stroke="#000" stroke-width="2"/>
<text x="1535.8" y="1267.5" font-size="25.7" text-anchor="end" textLength="13.8" lengthAdjust="spacingAndGlyphs" stroke="#000" stroke-width="0.25">0</text>
<line x1="1539.0" y1="1301.3" x2="1549.0" y2="1301.3" stroke="#000" stroke-width="2"/>
<text x="1535.8" y="1310.6" font-size="25.7" text-anchor="end" textLength="35.8" lengthAdjust="spacingAndGlyphs" stroke="#000" stroke-width="0.25">-20</text>
<line x1="1576.4" y1="1301.3" x2="1576.4" y2="1311.8" stroke="#000" stroke-width="2"/>
<line x1="1617.6" y1="1301.3" x2="1617.6" y2="1311.8" stroke="#000" stroke-width="2"/>
<line x1="1576.4" y1="1244.7" x2="1576.4" y2="1251.2" stroke="#000" stroke-width="2"/>
<line x1="1576.4" y1="1256.1" x2="1576.4" y2="1258.2" stroke="#000" stroke-width="2"/>
<line x1="1569.4" y1="1244.7" x2="1583.4" y2="1244.7" stroke="#000" stroke-width="2"/>
<line x1="1569.4" y1="1258.2" x2="1583.4" y2="1258.2" stroke="#000" stroke-width="2"/>
<rect x="1562.4" y="1251.2" width="28.0" height="4.9" fill="#dcdcdc" stroke="#000" stroke-width="2"/>
<line x1="1562.4" y1="1253.9" x2="1590.4" y2="1253.9" stroke="#000" stroke-width="2"/>
<circle cx="1576.4" cy="1129.9" r="2.1" fill="#000"/>
<circle cx="1576.4" cy="1184.6" r="2.1" fill="#000"/>
<circle cx="1576.4" cy="1219.7" r="2.1" fill="#000"/>
<circle cx="1576.4" cy="1224.0" r="2.1" fill="#000"/>
<circle cx="1576.4" cy="1229.1" r="2.1" fill="#000"/>
<circle cx="1576.4" cy="1231.8" r="2.1" fill="#000"/>
<circle cx="1576.4" cy="1235.8" r="2.1" fill="#000"/>
<circle cx="1576.4" cy="1238.5" r="2.1" fill="#000"/>
<line x1="1617.6" y1="1235.8" x2="1617.6" y2="1247.4" stroke="#000" stroke-width="2"/>
<line x1="1617.6" y1="1254.7" x2="1617.6" y2="1257.4" stroke="#000" stroke-width="2"/>
<line x1="1610.6" y1="1235.8" x2="1624.6" y2="1235.8" stroke="#000" stroke-width="2"/>
<line x1="1610.6" y1="1257.4" x2="1624.6" y2="1257.4" stroke="#000" stroke-width="2"/>
<rect x="1603.6" y="1247.4" width="28.0" height="7.3" fill="#f03c3c" stroke="#000" stroke-width="2"/>
<line x1="1603.6" y1="1252.0" x2="1631.6" y2="1252.0" stroke="#000" stroke-width="2"/>
<circle cx="1617.6" cy="1185.4" r="2.1" fill="#000"/>
<circle cx="1617.6" cy="1205.7" r="2.1" fill="#000"/>
<circle cx="1617.6" cy="1217.8" r="2.1" fill="#000"/>
<circle cx="1614.6" cy="1223.7" r="2.1" fill="#000"/>
<circle cx="1620.6" cy="1223.7" r="2.1" fill="#000"/>
<circle cx="1617.6" cy="1230.5" r="2.1" fill="#000"/>
<text x="1596.7" y="1041.0" font-size="23" text-anchor="middle" font-style="italic" >IL23</text>
<text x="1548.2" y="1081.3" font-size="19.0" textLength="100.2" lengthAdjust="spacingAndGlyphs"><tspan font-style="italic" font-size="16.7">P</tspan> = 0,00038</text>
<line x1="1571.9" y1="1100.5" x2="1616.1" y2="1100.5" stroke="#000" stroke-width="2"/>
<text x="1499.2" y="1188.0" font-size="25" text-anchor="middle" textLength="59.5" lengthAdjust="spacingAndGlyphs" transform="rotate(-90 1499.2 1188.0)" stroke="#000" stroke-width="0.5">FPKM</text>
<text x="1577.4" y="1335.3" font-size="23.8" text-anchor="end"  transform="rotate(-45 1577.4 1335.3)" >Low</text>
<text x="1623.6" y="1335.3" font-size="23.8" text-anchor="end"  transform="rotate(-45 1623.6 1335.3)" >High</text>
<line x1="1742.9" y1="1087.6" x2="1742.9" y2="1303.5" stroke="#000" stroke-width="2"/>
<line x1="1741.9" y1="1302.5" x2="1841.8" y2="1302.5" stroke="#000" stroke-width="2"/>
<line x1="1732.9" y1="1087.6" x2="1742.9" y2="1087.6" stroke="#000" stroke-width="2"/>
<text x="1729.7" y="1096.9" font-size="25.7" text-anchor="end" textLength="68.9" lengthAdjust="spacingAndGlyphs" stroke="#000" stroke-width="0.25">15000</text>
<line x1="1732.9" y1="1159.5" x2="1742.9" y2="1159.5" stroke="#000" stroke-width="2"/>
<text x="1729.7" y="1168.8" font-size="25.7" text-anchor="end" textLength="68.9" lengthAdjust="spacingAndGlyphs" stroke="#000" stroke-width="0.25">10000</text>
<line x1="1732.9" y1="1231.1" x2="1742.9" y2="1231.1" stroke="#000" stroke-width="2"/>
<text x="1729.7" y="1240.4" font-size="25.7" text-anchor="end" textLength="55.2" lengthAdjust="spacingAndGlyphs" stroke="#000" stroke-width="0.25">5000</text>
<line x1="1732.9" y1="1302.5" x2="1742.9" y2="1302.5" stroke="#000" stroke-width="2"/>
<text x="1729.7" y="1311.8" font-size="25.7" text-anchor="end" textLength="13.8" lengthAdjust="spacingAndGlyphs" stroke="#000" stroke-width="0.25">0</text>
<line x1="1771.0" y1="1302.5" x2="1771.0" y2="1313.0" stroke="#000" stroke-width="2"/>
<line x1="1812.6" y1="1302.5" x2="1812.6" y2="1313.0" stroke="#000" stroke-width="2"/>
<line x1="1771.0" y1="1249.7" x2="1771.0" y2="1270.2" stroke="#000" stroke-width="2"/>
<line x1="1771.0" y1="1285.6" x2="1771.0" y2="1295.5" stroke="#000" stroke-width="2"/>
<line x1="1764.0" y1="1249.7" x2="1778.0" y2="1249.7" stroke="#000" stroke-width="2"/>
<line x1="1764.0" y1="1295.5" x2="1778.0" y2="1295.5" stroke="#000" stroke-width="2"/>
<rect x="1757.0" y="1270.2" width="28.0" height="15.4" fill="#dcdcdc" stroke="#000" stroke-width="2"/>
<line x1="1757.0" y1="1279.4" x2="1785.0" y2="1279.4" stroke="#000" stroke-width="2"/>
<circle cx="1771.0" cy="1128.8" r="2.1" fill="#000"/>
<circle cx="1771.0" cy="1229.5" r="2.1" fill="#000"/>
<circle cx="1769.0" cy="1234.4" r="2.1" fill="#000"/>
<circle cx="1773.0" cy="1237.0" r="2.1" fill="#000"/>
<circle cx="1771.0" cy="1239.8" r="2.1" fill="#000"/>
<line x1="1812.6" y1="1259.4" x2="1812.6" y2="1276.9" stroke="#000" stroke-width="2"/>
<line x1="1812.6" y1="1289.6" x2="1812.6" y2="1299.6" stroke="#000" stroke-width="2"/>
<line x1="1805.6" y1="1259.4" x2="1819.6" y2="1259.4" stroke="#000" stroke-width="2"/>
<line x1="1805.6" y1="1299.6" x2="1819.6" y2="1299.6" stroke="#000" stroke-width="2"/>
<rect x="1798.6" y="1276.9" width="28.0" height="12.7" fill="#f03c3c" stroke="#000" stroke-width="2"/>
<line x1="1798.6" y1="1285.6" x2="1826.6" y2="1285.6" stroke="#000" stroke-width="2"/>
<circle cx="1812.6" cy="1206.9" r="2.1" fill="#000"/>
<circle cx="1812.6" cy="1215.5" r="2.1" fill="#000"/>
<circle cx="1812.6" cy="1234.4" r="2.1" fill="#000"/>
<circle cx="1809.6" cy="1255.9" r="2.1" fill="#000"/>
<circle cx="1815.6" cy="1257.3" r="2.1" fill="#000"/>
<text x="1784.7" y="1036.4" font-size="23" text-anchor="middle" font-style="italic" >GAPDH</text>
<text x="1753.2" y="1097.5" font-size="19.5" textLength="97.5" lengthAdjust="spacingAndGlyphs"><tspan font-style="italic" font-size="17.2">P</tspan> = 0,00021</text>
<line x1="1767.2" y1="1102.4" x2="1807.6" y2="1102.4" stroke="#000" stroke-width="2"/>
<text x="1661.5" y="1189.1" font-size="25" text-anchor="middle" textLength="60.5" lengthAdjust="spacingAndGlyphs" transform="rotate(-90 1661.5 1189.1)" stroke="#000" stroke-width="0.5">FPKM</text>
<text x="1772.0" y="1336.5" font-size="23.8" text-anchor="end"  transform="rotate(-45 1772.0 1336.5)" >Low</text>
<text x="1818.6" y="1336.5" font-size="23.8" text-anchor="end"  transform="rotate(-45 1818.6 1336.5)" >High</text>
</svg>
</body></html>
